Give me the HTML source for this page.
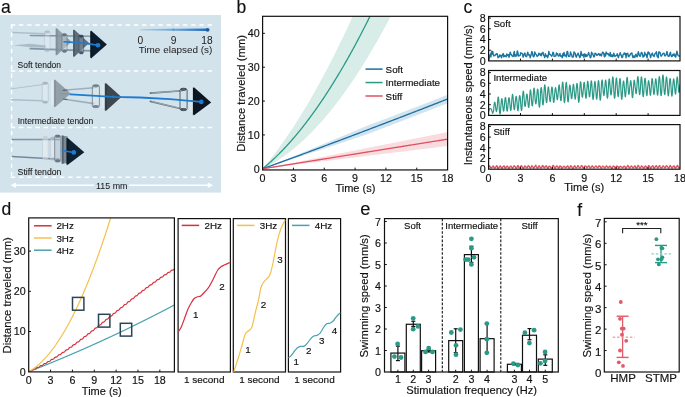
<!DOCTYPE html>
<html><head><meta charset="utf-8"><style>
html,body{margin:0;padding:0;background:#fff;width:685px;height:397px;overflow:hidden}
svg{display:block;will-change:transform}
svg text{font-family:"Liberation Sans", sans-serif}
</style></head><body>
<svg width="685" height="397" viewBox="0 0 685 397">
<rect x="0" y="15" width="221" height="177.6" fill="#d3e3ec"/>
<text x="1" y="12.6" font-size="17.5" text-anchor="start" fill="#111" stroke="#111" stroke-width="0.16" >a</text>
<line x1="10.8" y1="25" x2="213.5" y2="25" stroke="#ffffff" stroke-width="1.5" stroke-dasharray="4.4 3.8"/>
<line x1="10.8" y1="71" x2="213.5" y2="71" stroke="#ffffff" stroke-width="1.5" stroke-dasharray="4.4 3.8"/>
<line x1="10.8" y1="127.6" x2="213.5" y2="127.6" stroke="#ffffff" stroke-width="1.5" stroke-dasharray="4.4 3.8"/>
<line x1="10.8" y1="177.2" x2="213.5" y2="177.2" stroke="#ffffff" stroke-width="1.5" stroke-dasharray="4.4 3.8"/>
<line x1="11.6" y1="24.3" x2="11.6" y2="177.2" stroke="#ffffff" stroke-width="1.5" stroke-dasharray="4.4 3.8"/>
<line x1="14" y1="185.2" x2="94" y2="185.2" stroke="#ffffff" stroke-width="1.4" />
<line x1="129" y1="185.2" x2="209" y2="185.2" stroke="#ffffff" stroke-width="1.4" />
<polygon points="10.5,185.2 16,182.4 16,188" fill="#ffffff" />
<polygon points="213.2,185.2 207.7,182.4 207.7,188" fill="#ffffff" />
<text x="111.8" y="189.4" font-size="8.9" text-anchor="middle" fill="#1a1a1a" stroke="#1a1a1a" stroke-width="0.05" >115 mm</text>
<defs><linearGradient id="cb" x1="0" x2="1" y1="0" y2="0"><stop offset="0" stop-color="#b4d2ea"/><stop offset="0.5" stop-color="#6aa6d8"/><stop offset="1" stop-color="#1c6cbf"/></linearGradient></defs>
<polygon points="139.9,29.1 207.5,28.6 207.5,31 139.9,30.4" fill="url(#cb)" />
<circle cx="173.4" cy="29.8" r="1.3" fill="#5e9fd0" />
<circle cx="207.6" cy="29.8" r="1.9" fill="#1a5c9c" />
<text x="140.3" y="43.8" font-size="10.2" text-anchor="middle" fill="#1a1a1a" stroke="#1a1a1a" stroke-width="0.0" >0</text>
<text x="173.5" y="43.8" font-size="10.2" text-anchor="middle" fill="#1a1a1a" stroke="#1a1a1a" stroke-width="0.0" >9</text>
<text x="207" y="43.8" font-size="10.2" text-anchor="middle" fill="#1a1a1a" stroke="#1a1a1a" stroke-width="0.0" >18</text>
<text x="175.5" y="53.2" font-size="9.95" text-anchor="middle" fill="#1a1a1a" stroke="#1a1a1a" stroke-width="0.0" >Time elapsed (s)</text>
<text x="17.6" y="67.9" font-size="8.5" text-anchor="start" fill="#1a1a1a" stroke="#1a1a1a" stroke-width="0.08" >Soft tendon</text>
<text x="17.7" y="124.2" font-size="8.5" text-anchor="start" fill="#1a1a1a" stroke="#1a1a1a" stroke-width="0.08" >Intermediate tendon</text>
<text x="17.6" y="175.2" font-size="8.7" text-anchor="start" fill="#1a1a1a" stroke="#1a1a1a" stroke-width="0.08" >Stiff tendon</text>
<defs><filter id="soft" x="-5%" y="-5%" width="110%" height="110%"><feGaussianBlur stdDeviation="0.35"/></filter></defs>
<g filter="url(#soft)">
<line x1="13.1" y1="32.5" x2="45.3" y2="33.8" stroke="#a8bbc7" stroke-width="1.5" stroke-opacity="0.9" stroke-linecap="round"/>
<polygon points="13,45.3 30,43.8 46,45.5 46,47.8 30,47.2" fill="#a3b5c1" fill-opacity="0.85"/>
<line x1="30.3" y1="35.4" x2="92" y2="36.2" stroke="#6d8597" stroke-width="1.5" stroke-opacity="0.8" stroke-linecap="round"/>
<line x1="30.3" y1="48.6" x2="92" y2="50.8" stroke="#6d8597" stroke-width="1.8" stroke-opacity="0.8" stroke-linecap="round"/>
<rect x="44.4" y="30.7" width="5.7" height="20.8" rx="2.59" ry="2" fill="#eef3f6" fill-opacity="0.24750000000000003" stroke="#8797a3" stroke-opacity="0.27" stroke-width="0.9"/>
<ellipse cx="47.25" cy="32.1" rx="2.48" ry="1.3" fill="#8797a3" fill-opacity="0.48"/>
<ellipse cx="47.25" cy="50.1" rx="2.48" ry="1.3" fill="#8797a3" fill-opacity="0.48"/>
<polygon points="56.4,27.8 71.5,41.8 56.4,55.8" fill="#8795a0" fill-opacity="0.85"/>
<polygon points="55.6,28.3 57.6,29.3 57.6,54.3 55.6,55.3" fill="#7a8893" fill-opacity="0.85"/>
<rect x="62" y="33.5" width="5" height="19" rx="2.27" ry="2" fill="#c9d3d9" fill-opacity="0.44000000000000006" stroke="#46586a" stroke-opacity="0.48" stroke-width="0.9"/>
<ellipse cx="64.5" cy="34.9" rx="2.17" ry="1.3" fill="#46586a" fill-opacity="0.7200000000000001"/>
<ellipse cx="64.5" cy="51.1" rx="2.17" ry="1.3" fill="#46586a" fill-opacity="0.7200000000000001"/>
<polygon points="73.8,29.2 89.1,43 73.8,57.2" fill="#566572" fill-opacity="0.92"/>
<polygon points="73,29.7 75,30.7 75,55.7 73,56.7" fill="#4a5966" fill-opacity="0.92"/>
<rect x="78.9" y="35" width="4.7" height="19" rx="2.14" ry="2" fill="#8b98a2" fill-opacity="0.44000000000000006" stroke="#223444" stroke-opacity="0.48" stroke-width="0.9"/>
<ellipse cx="81.25" cy="36.4" rx="2.04" ry="1.3" fill="#223444" fill-opacity="0.76"/>
<ellipse cx="81.25" cy="52.6" rx="2.04" ry="1.3" fill="#223444" fill-opacity="0.76"/>
<polygon points="91,30.6 106.9,44.6 91,58.5" fill="#0e1f2d" fill-opacity="1.0"/>
<polygon points="90.2,31.1 92.2,32.1 92.2,57 90.2,58" fill="#0a1824" fill-opacity="1.0"/>
<polyline points="64,41.8 76,42.6 87.3,43.6 98,45.3" fill="none" stroke="#1f7bd0" stroke-width="1.6" stroke-linejoin="round" stroke-linecap="round" />
<circle cx="98" cy="45.3" r="2.3" fill="#1f7bd0" />
<line x1="11.4" y1="88.5" x2="42.6" y2="84.3" stroke="#a9bac5" stroke-width="1.6" stroke-opacity="0.9" stroke-linecap="round"/>
<line x1="11.4" y1="99.7" x2="42.6" y2="100.8" stroke="#a9bac5" stroke-width="1.6" stroke-opacity="0.9" stroke-linecap="round"/>
<line x1="11.4" y1="88" x2="42.6" y2="83.8" stroke="#f4f7f9" stroke-width="0.6" stroke-opacity="0.8" stroke-linecap="round"/>
<rect x="42.2" y="82" width="6" height="21.4" rx="2.73" ry="2" fill="#eef3f6" fill-opacity="0.33" stroke="#8d9ba5" stroke-opacity="0.36" stroke-width="0.9"/>
<ellipse cx="45.2" cy="83.4" rx="2.61" ry="1.3" fill="#8d9ba5" fill-opacity="0.6400000000000001"/>
<ellipse cx="45.2" cy="102" rx="2.61" ry="1.3" fill="#8d9ba5" fill-opacity="0.6400000000000001"/>
<rect x="51" y="80.5" width="3" height="25" fill="#e8eff3" stroke="none" stroke-width="0" fill-opacity="0.6"/>
<polyline points="60.1,93.9 71,94.4" fill="none" stroke="#5f9bcd" stroke-width="1.6" stroke-linejoin="round" stroke-linecap="round" />
<polygon points="54.7,79.2 70.8,93.4 54.7,107.6" fill="#8f9ba3" fill-opacity="0.93"/>
<polygon points="53.9,79.7 55.9,80.7 55.9,106.1 53.9,107.1" fill="#84919a" fill-opacity="0.93"/>
<line x1="63.2" y1="90.3" x2="93.8" y2="87.8" stroke="#9aa8b2" stroke-width="1.6" stroke-opacity="0.9" stroke-linecap="round"/>
<line x1="63.2" y1="99" x2="93.8" y2="103.6" stroke="#9aa8b2" stroke-width="1.6" stroke-opacity="0.9" stroke-linecap="round"/>
<line x1="63.2" y1="90.3" x2="67" y2="90" stroke="#4c5964" stroke-width="1.2" stroke-opacity="0.9" stroke-linecap="round"/>
<line x1="63.2" y1="99" x2="67" y2="99.5" stroke="#4c5964" stroke-width="1.2" stroke-opacity="0.9" stroke-linecap="round"/>
<rect x="92.3" y="84.7" width="7.1" height="23" rx="3.23" ry="2" fill="#dde6eb" fill-opacity="0.44000000000000006" stroke="#56636d" stroke-opacity="0.7200000000000001" stroke-width="0.9"/>
<ellipse cx="95.85" cy="86.1" rx="3.09" ry="1.3" fill="#56636d" fill-opacity="0.7200000000000001"/>
<ellipse cx="95.85" cy="106.3" rx="3.09" ry="1.3" fill="#56636d" fill-opacity="0.7200000000000001"/>
<rect x="101.5" y="84" width="3.5" height="24" fill="#e6edf1" stroke="none" stroke-width="0" fill-opacity="0.5"/>
<polygon points="105.6,82.7 121.4,97 105.6,111.3" fill="#3c4650" fill-opacity="1.0"/>
<polygon points="104.8,83.2 106.8,84.2 106.8,109.8 104.8,110.8" fill="#333d46" fill-opacity="1.0"/>
<line x1="150.4" y1="93.1" x2="182.2" y2="90.7" stroke="#56626c" stroke-width="1.6" stroke-opacity="0.9" stroke-linecap="round"/>
<line x1="150.4" y1="101.4" x2="182.2" y2="109" stroke="#56626c" stroke-width="1.6" stroke-opacity="0.9" stroke-linecap="round"/>
<line x1="152" y1="93" x2="181" y2="90.9" stroke="#c7d2d9" stroke-width="0.6" stroke-opacity="0.9" stroke-linecap="round"/>
<line x1="152" y1="101.6" x2="181" y2="108.6" stroke="#c7d2d9" stroke-width="0.6" stroke-opacity="0.9" stroke-linecap="round"/>
<rect x="180" y="88.2" width="7.1" height="22.5" rx="3.23" ry="2" fill="#d5dee4" fill-opacity="0.4675" stroke="#26313a" stroke-opacity="0.8075" stroke-width="0.9"/>
<ellipse cx="183.55" cy="89.6" rx="3.09" ry="1.3" fill="#26313a" fill-opacity="0.76"/>
<ellipse cx="183.55" cy="109.3" rx="3.09" ry="1.3" fill="#26313a" fill-opacity="0.76"/>
<rect x="189.5" y="88" width="3" height="24" fill="#e6edf1" stroke="none" stroke-width="0" fill-opacity="0.5"/>
<polygon points="193.7,87.1 211.2,102.5 193.7,115.6" fill="#0e1820" fill-opacity="1.0"/>
<polygon points="192.9,87.6 194.9,88.6 194.9,114.1 192.9,115.1" fill="#0b141b" fill-opacity="1.0"/>
<polyline points="71,94.4 113,96.8 140,97.5 170,99.2 201.3,101.9" fill="none" stroke="#1f7bd0" stroke-width="1.8" stroke-linejoin="round" stroke-linecap="round" />
<circle cx="113.2" cy="96.8" r="1.3" fill="#1f7bd0" />
<circle cx="201.3" cy="101.9" r="2.3" fill="#1f7bd0" />
<line x1="12.1" y1="139.6" x2="59.2" y2="139.6" stroke="#6f8596" stroke-width="1.5" stroke-opacity="0.95" stroke-linecap="round"/>
<line x1="12.1" y1="156.4" x2="59.2" y2="159.2" stroke="#6f8596" stroke-width="1.5" stroke-opacity="0.95" stroke-linecap="round"/>
<line x1="14" y1="138.9" x2="58" y2="138.9" stroke="#c9d5dd" stroke-width="0.5" stroke-opacity="0.9" stroke-linecap="round"/>
<rect x="42.6" y="136.5" width="5.5" height="23.2" rx="2.5" ry="2" fill="#f1f5f7" fill-opacity="0.44000000000000006" stroke="#b3c0c9" stroke-opacity="0.48" stroke-width="0.9"/>
<ellipse cx="45.35" cy="137.9" rx="2.39" ry="1.3" fill="#b3c0c9" fill-opacity="0.5599999999999999"/>
<ellipse cx="45.35" cy="158.3" rx="2.39" ry="1.3" fill="#b3c0c9" fill-opacity="0.5599999999999999"/>
<rect x="50.1" y="137" width="5" height="23.2" rx="2.27" ry="2" fill="#e4ebef" fill-opacity="0.44000000000000006" stroke="#9aa9b4" stroke-opacity="0.48" stroke-width="0.9"/>
<ellipse cx="52.6" cy="138.4" rx="2.17" ry="1.3" fill="#9aa9b4" fill-opacity="0.6400000000000001"/>
<ellipse cx="52.6" cy="158.8" rx="2.17" ry="1.3" fill="#9aa9b4" fill-opacity="0.6400000000000001"/>
<rect x="54.6" y="135" width="6.1" height="27.2" rx="2.77" ry="2" fill="#b4c0c8" fill-opacity="0.4675" stroke="#465665" stroke-opacity="0.51" stroke-width="0.9"/>
<ellipse cx="57.65" cy="136.4" rx="2.65" ry="1.3" fill="#465665" fill-opacity="0.7200000000000001"/>
<ellipse cx="57.65" cy="160.8" rx="2.65" ry="1.3" fill="#465665" fill-opacity="0.7200000000000001"/>
<polygon points="61.7,135.5 67.7,136.5 67.7,163 61.7,163.7" fill="#7b8993" />
<polygon points="61.7,135.5 63.7,135.8 63.7,163.5 61.7,163.7" fill="#56636d" />
<polyline points="62.2,150.6 73.8,152.4" fill="none" stroke="#1f7bd0" stroke-width="1.5" stroke-linejoin="round" stroke-linecap="round" />
<polygon points="67.2,137.6 84.3,152.2 67.2,165.2" fill="#0d2231" fill-opacity="1.0"/>
<polygon points="66.4,138.1 68.4,139.1 68.4,163.7 66.4,164.7" fill="#0a1b27" fill-opacity="1.0"/>
<polyline points="66,151.2 73.8,152.4" fill="none" stroke="#1f7bd0" stroke-width="1.5" stroke-linejoin="round" stroke-linecap="round" />
<circle cx="73.8" cy="152.4" r="2.3" fill="#1f7bd0" />
</g>
<defs><clipPath id="cpb"><rect x="262.6" y="16.3" width="185" height="153.65"/></clipPath></defs>
<g clip-path="url(#cpb)">
<polygon points="262.6,168.8 263.63,167.57 264.66,166.34 265.68,165.09 266.71,163.83 267.74,162.56 268.77,161.27 269.79,159.97 270.82,158.67 271.85,157.35 272.88,156.01 273.91,154.67 274.93,153.31 275.96,151.95 276.99,150.57 278.02,149.18 279.04,147.77 280.07,146.36 281.1,144.93 282.13,143.49 283.16,142.04 284.18,140.58 285.21,139.11 286.24,137.62 287.27,136.12 288.29,134.61 289.32,133.09 290.35,131.56 291.38,130.01 292.41,128.45 293.43,126.89 294.46,125.3 295.49,123.71 296.52,122.11 297.54,120.49 298.57,118.86 299.6,117.22 300.63,115.57 301.66,113.91 302.68,112.23 303.71,110.54 304.74,108.84 305.77,107.13 306.79,105.41 307.82,103.67 308.85,101.93 309.88,100.17 310.91,98.4 311.93,96.62 312.96,94.82 313.99,93.02 315.02,91.2 316.04,89.37 317.07,87.53 318.1,85.67 319.13,83.81 320.16,81.93 321.18,80.04 322.21,78.14 323.24,76.23 324.27,74.3 325.29,72.37 326.32,70.42 327.35,68.46 328.38,66.49 329.41,64.5 330.43,62.51 331.46,60.5 332.49,58.48 333.52,56.45 334.54,54.4 335.57,52.35 336.6,50.28 337.63,48.2 338.66,46.11 339.68,44.01 340.71,41.9 341.74,39.77 342.77,37.63 343.79,35.48 344.82,33.32 345.85,31.15 346.88,28.96 347.91,26.76 348.93,24.55 349.96,22.33 350.99,20.1 352.02,17.86 353.04,15.6 354.07,13.33 355.1,11.05 356.13,8.76 357.16,6.45 358.18,4.14 359.21,1.81 360.24,-0.53 361.27,-2.88 362.29,-5.24 363.32,-7.62 364.35,-10.01 365.38,-12.4 366.41,-14.82 367.43,-17.24 368.46,-19.67 369.49,-22.12 370.52,-24.58 371.54,-27.05 372.57,-29.53 373.6,-32.02 374.63,-34.53 375.66,-37.04 376.68,-39.57 377.71,-42.12 378.74,-44.67 379.77,-47.23 380.79,-49.81 381.82,-52.4 382.85,-55 383.88,-57.61 384.91,-60.23 385.93,-62.87 386.96,-65.52 387.99,-68.18 389.02,-70.85 390.04,-73.53 391.07,-76.23 392.1,-78.94 393.13,-81.65 394.16,-84.39 395.18,-87.13 396.21,-89.88 397.24,-92.65 398.27,-95.43 399.29,-98.22 400.32,-101.02 401.35,-103.83 402.38,-106.66 403.41,-109.5 404.43,-112.34 405.46,-115.21 406.49,-118.08 407.52,-120.96 408.54,-123.86 409.57,-126.77 410.6,-129.69 411.63,-132.62 412.66,-135.57 413.68,-138.52 414.71,-141.49 415.74,-144.47 416.77,-147.46 417.79,-150.46 418.82,-153.48 419.85,-156.51 420.88,-159.55 421.91,-162.6 422.93,-165.66 423.96,-168.73 424.99,-171.82 426.02,-174.92 427.04,-178.03 428.07,-181.15 429.1,-184.28 430.13,-187.43 431.16,-190.59 432.18,-193.76 433.21,-196.94 434.24,-200.13 435.27,-203.34 436.29,-206.55 437.32,-209.78 438.35,-213.02 439.38,-216.27 440.41,-219.54 441.43,-222.82 442.46,-226.1 443.49,-229.4 444.52,-232.71 445.54,-236.04 446.57,-239.37 447.6,-242.72 447.6,-110.42 446.57,-107.81 445.54,-105.21 444.52,-102.62 443.49,-100.05 442.46,-97.48 441.43,-94.93 440.41,-92.39 439.38,-89.86 438.35,-87.34 437.32,-84.84 436.29,-82.34 435.27,-79.86 434.24,-77.39 433.21,-74.93 432.18,-72.49 431.16,-70.05 430.13,-67.63 429.1,-65.22 428.07,-62.82 427.04,-60.43 426.02,-58.06 424.99,-55.69 423.96,-53.34 422.93,-51 421.91,-48.68 420.88,-46.36 419.85,-44.06 418.82,-41.76 417.79,-39.48 416.77,-37.21 415.74,-34.96 414.71,-32.71 413.68,-30.48 412.66,-28.26 411.63,-26.05 410.6,-23.85 409.57,-21.67 408.54,-19.49 407.52,-17.33 406.49,-15.18 405.46,-13.04 404.43,-10.92 403.41,-8.8 402.38,-6.7 401.35,-4.61 400.32,-2.53 399.29,-0.46 398.27,1.59 397.24,3.63 396.21,5.67 395.18,7.68 394.16,9.69 393.13,11.69 392.1,13.67 391.07,15.64 390.04,17.6 389.02,19.55 387.99,21.49 386.96,23.41 385.93,25.33 384.91,27.23 383.88,29.12 382.85,30.99 381.82,32.86 380.79,34.71 379.77,36.55 378.74,38.38 377.71,40.2 376.68,42.01 375.66,43.8 374.63,45.59 373.6,47.36 372.57,49.11 371.54,50.86 370.52,52.6 369.49,54.32 368.46,56.03 367.43,57.73 366.41,59.42 365.38,61.09 364.35,62.76 363.32,64.41 362.29,66.05 361.27,67.68 360.24,69.29 359.21,70.9 358.18,72.49 357.16,74.07 356.13,75.64 355.1,77.2 354.07,78.74 353.04,80.28 352.02,81.8 350.99,83.31 349.96,84.81 348.93,86.29 347.91,87.77 346.88,89.23 345.85,90.68 344.82,92.12 343.79,93.55 342.77,94.96 341.74,96.36 340.71,97.75 339.68,99.13 338.66,100.5 337.63,101.86 336.6,103.2 335.57,104.53 334.54,105.85 333.52,107.16 332.49,108.46 331.46,109.74 330.43,111.01 329.41,112.28 328.38,113.52 327.35,114.76 326.32,115.99 325.29,117.2 324.27,118.4 323.24,119.59 322.21,120.77 321.18,121.93 320.16,123.09 319.13,124.23 318.1,125.36 317.07,126.48 316.04,127.59 315.02,128.68 313.99,129.76 312.96,130.84 311.93,131.9 310.91,132.94 309.88,133.98 308.85,135 307.82,136.01 306.79,137.01 305.77,138 304.74,138.98 303.71,139.94 302.68,140.9 301.66,141.84 300.63,142.76 299.6,143.68 298.57,144.59 297.54,145.48 296.52,146.36 295.49,147.23 294.46,148.09 293.43,148.94 292.41,149.77 291.38,150.59 290.35,151.4 289.32,152.2 288.29,152.99 287.27,153.76 286.24,154.52 285.21,155.28 284.18,156.01 283.16,156.74 282.13,157.46 281.1,158.16 280.07,158.85 279.04,159.53 278.02,160.2 276.99,160.86 275.96,161.5 274.93,162.13 273.91,162.76 272.88,163.36 271.85,163.96 270.82,164.55 269.79,165.12 268.77,165.68 267.74,166.23 266.71,166.77 265.68,167.29 264.66,167.81 263.63,168.31 262.6,168.8" fill="#d8ece8" fill-opacity="1"/>
<polygon points="262.6,168.8 263.63,168.39 264.66,167.97 265.68,167.56 266.71,167.14 267.74,166.73 268.77,166.32 269.79,165.9 270.82,165.49 271.85,165.07 272.88,164.66 273.91,164.24 274.93,163.82 275.96,163.41 276.99,162.99 278.02,162.58 279.04,162.16 280.07,161.74 281.1,161.33 282.13,160.91 283.16,160.49 284.18,160.07 285.21,159.66 286.24,159.24 287.27,158.82 288.29,158.4 289.32,157.98 290.35,157.57 291.38,157.15 292.41,156.73 293.43,156.31 294.46,155.89 295.49,155.47 296.52,155.05 297.54,154.63 298.57,154.21 299.6,153.79 300.63,153.37 301.66,152.95 302.68,152.53 303.71,152.11 304.74,151.69 305.77,151.26 306.79,150.84 307.82,150.42 308.85,150 309.88,149.58 310.91,149.16 311.93,148.73 312.96,148.31 313.99,147.89 315.02,147.46 316.04,147.04 317.07,146.62 318.1,146.19 319.13,145.77 320.16,145.35 321.18,144.92 322.21,144.5 323.24,144.07 324.27,143.65 325.29,143.22 326.32,142.8 327.35,142.37 328.38,141.95 329.41,141.52 330.43,141.1 331.46,140.67 332.49,140.24 333.52,139.82 334.54,139.39 335.57,138.96 336.6,138.54 337.63,138.11 338.66,137.68 339.68,137.25 340.71,136.83 341.74,136.4 342.77,135.97 343.79,135.54 344.82,135.11 345.85,134.69 346.88,134.26 347.91,133.83 348.93,133.4 349.96,132.97 350.99,132.54 352.02,132.11 353.04,131.68 354.07,131.25 355.1,130.82 356.13,130.39 357.16,129.96 358.18,129.53 359.21,129.1 360.24,128.66 361.27,128.23 362.29,127.8 363.32,127.37 364.35,126.94 365.38,126.5 366.41,126.07 367.43,125.68 368.46,125.29 369.49,124.9 370.52,124.51 371.54,124.12 372.57,123.73 373.6,123.34 374.63,122.95 375.66,122.56 376.68,122.17 377.71,121.78 378.74,121.38 379.77,120.99 380.79,120.6 381.82,120.21 382.85,119.82 383.88,119.42 384.91,119.03 385.93,118.64 386.96,118.25 387.99,117.85 389.02,117.46 390.04,117.07 391.07,116.67 392.1,116.28 393.13,115.88 394.16,115.49 395.18,115.1 396.21,114.7 397.24,114.31 398.27,113.91 399.29,113.52 400.32,113.12 401.35,112.73 402.38,112.33 403.41,111.93 404.43,111.54 405.46,111.14 406.49,110.75 407.52,110.35 408.54,109.95 409.57,109.56 410.6,109.16 411.63,108.76 412.66,108.37 413.68,107.97 414.71,107.57 415.74,107.17 416.77,106.78 417.79,106.38 418.82,105.98 419.85,105.58 420.88,105.18 421.91,104.78 422.93,104.38 423.96,103.99 424.99,103.59 426.02,103.19 427.04,102.79 428.07,102.39 429.1,101.99 430.13,101.59 431.16,101.19 432.18,100.79 433.21,100.39 434.24,99.99 435.27,99.58 436.29,99.18 437.32,98.78 438.35,98.38 439.38,97.98 440.41,97.58 441.43,97.18 442.46,96.77 443.49,96.37 444.52,95.97 445.54,95.57 446.57,95.16 447.6,94.76 447.6,103.23 446.57,103.63 445.54,104.03 444.52,104.44 443.49,104.84 442.46,105.24 441.43,105.64 440.41,106.04 439.38,106.45 438.35,106.85 437.32,107.25 436.29,107.65 435.27,108.05 434.24,108.45 433.21,108.85 432.18,109.25 431.16,109.65 430.13,110.06 429.1,110.46 428.07,110.86 427.04,111.25 426.02,111.65 424.99,112.05 423.96,112.45 422.93,112.85 421.91,113.25 420.88,113.65 419.85,114.05 418.82,114.45 417.79,114.85 416.77,115.24 415.74,115.64 414.71,116.04 413.68,116.44 412.66,116.83 411.63,117.23 410.6,117.63 409.57,118.02 408.54,118.42 407.52,118.82 406.49,119.21 405.46,119.61 404.43,120.01 403.41,120.4 402.38,120.8 401.35,121.19 400.32,121.59 399.29,121.98 398.27,122.38 397.24,122.77 396.21,123.17 395.18,123.56 394.16,123.96 393.13,124.35 392.1,124.75 391.07,125.14 390.04,125.53 389.02,125.93 387.99,126.32 386.96,126.71 385.93,127.11 384.91,127.5 383.88,127.89 382.85,128.28 381.82,128.68 380.79,129.07 379.77,129.46 378.74,129.85 377.71,130.24 376.68,130.64 375.66,131.03 374.63,131.42 373.6,131.81 372.57,132.2 371.54,132.59 370.52,132.98 369.49,133.37 368.46,133.76 367.43,134.15 366.41,134.54 365.38,134.89 364.35,135.23 363.32,135.58 362.29,135.93 361.27,136.27 360.24,136.62 359.21,136.96 358.18,137.31 357.16,137.66 356.13,138 355.1,138.35 354.07,138.69 353.04,139.04 352.02,139.38 350.99,139.73 349.96,140.07 348.93,140.41 347.91,140.76 346.88,141.1 345.85,141.45 344.82,141.79 343.79,142.13 342.77,142.48 341.74,142.82 340.71,143.16 339.68,143.51 338.66,143.85 337.63,144.19 336.6,144.54 335.57,144.88 334.54,145.22 333.52,145.56 332.49,145.9 331.46,146.25 330.43,146.59 329.41,146.93 328.38,147.27 327.35,147.61 326.32,147.95 325.29,148.29 324.27,148.63 323.24,148.97 322.21,149.31 321.18,149.65 320.16,149.99 319.13,150.33 318.1,150.67 317.07,151.01 316.04,151.35 315.02,151.69 313.99,152.03 312.96,152.37 311.93,152.71 310.91,153.05 309.88,153.39 308.85,153.73 307.82,154.06 306.79,154.4 305.77,154.74 304.74,155.08 303.71,155.42 302.68,155.75 301.66,156.09 300.63,156.43 299.6,156.77 298.57,157.1 297.54,157.44 296.52,157.78 295.49,158.11 294.46,158.45 293.43,158.78 292.41,159.12 291.38,159.46 290.35,159.79 289.32,160.13 288.29,160.46 287.27,160.8 286.24,161.13 285.21,161.47 284.18,161.8 283.16,162.14 282.13,162.47 281.1,162.81 280.07,163.14 279.04,163.48 278.02,163.81 276.99,164.14 275.96,164.48 274.93,164.81 273.91,165.14 272.88,165.48 271.85,165.81 270.82,166.14 269.79,166.48 268.77,166.81 267.74,167.14 266.71,167.47 265.68,167.8 264.66,168.14 263.63,168.47 262.6,168.8" fill="#d2e5ee" fill-opacity="1"/>
<polygon points="262.6,168.8 263.63,168.6 264.66,168.39 265.68,168.19 266.71,167.98 267.74,167.78 268.77,167.58 269.79,167.37 270.82,167.17 271.85,166.96 272.88,166.76 273.91,166.55 274.93,166.35 275.96,166.15 276.99,165.94 278.02,165.74 279.04,165.53 280.07,165.33 281.1,165.13 282.13,164.92 283.16,164.72 284.18,164.51 285.21,164.31 286.24,164.11 287.27,163.9 288.29,163.7 289.32,163.49 290.35,163.29 291.38,163.08 292.41,162.88 293.43,162.68 294.46,162.47 295.49,162.27 296.52,162.06 297.54,161.86 298.57,161.66 299.6,161.45 300.63,161.25 301.66,161.04 302.68,160.84 303.71,160.64 304.74,160.43 305.77,160.23 306.79,160.02 307.82,159.82 308.85,159.61 309.88,159.41 310.91,159.21 311.93,159 312.96,158.8 313.99,158.59 315.02,158.39 316.04,158.19 317.07,157.98 318.1,157.78 319.13,157.57 320.16,157.37 321.18,157.17 322.21,156.96 323.24,156.76 324.27,156.55 325.29,156.35 326.32,156.14 327.35,155.94 328.38,155.74 329.41,155.53 330.43,155.33 331.46,155.12 332.49,154.92 333.52,154.72 334.54,154.51 335.57,154.31 336.6,154.1 337.63,153.9 338.66,153.7 339.68,153.49 340.71,153.29 341.74,153.08 342.77,152.88 343.79,152.67 344.82,152.47 345.85,152.27 346.88,152.06 347.91,151.86 348.93,151.65 349.96,151.45 350.99,151.25 352.02,151.04 353.04,150.84 354.07,150.63 355.1,150.43 356.13,150.23 357.16,150.02 358.18,149.82 359.21,149.61 360.24,149.41 361.27,149.21 362.29,149 363.32,148.8 364.35,148.59 365.38,148.39 366.41,148.18 367.43,147.98 368.46,147.78 369.49,147.57 370.52,147.37 371.54,147.16 372.57,146.96 373.6,146.76 374.63,146.55 375.66,146.35 376.68,146.14 377.71,145.94 378.74,145.74 379.77,145.53 380.79,145.33 381.82,145.12 382.85,144.92 383.88,144.71 384.91,144.51 385.93,144.31 386.96,144.1 387.99,143.9 389.02,143.69 390.04,143.49 391.07,143.29 392.1,143.08 393.13,142.88 394.16,142.67 395.18,142.47 396.21,142.27 397.24,142.06 398.27,141.86 399.29,141.65 400.32,141.45 401.35,141.24 402.38,141.04 403.41,140.84 404.43,140.63 405.46,140.43 406.49,140.22 407.52,140.02 408.54,139.82 409.57,139.61 410.6,139.41 411.63,139.2 412.66,139 413.68,138.8 414.71,138.59 415.74,138.39 416.77,138.18 417.79,137.98 418.82,137.77 419.85,137.57 420.88,137.37 421.91,137.16 422.93,136.96 423.96,136.75 424.99,136.55 426.02,136.35 427.04,136.14 428.07,135.94 429.1,135.73 430.13,135.53 431.16,135.33 432.18,135.12 433.21,134.92 434.24,134.71 435.27,134.51 436.29,134.3 437.32,134.1 438.35,133.9 439.38,133.69 440.41,133.49 441.43,133.28 442.46,133.08 443.49,132.88 444.52,132.67 445.54,132.47 446.57,132.26 447.6,132.06 447.6,145.99 446.57,146.11 445.54,146.24 444.52,146.37 443.49,146.49 442.46,146.62 441.43,146.75 440.41,146.87 439.38,147 438.35,147.13 437.32,147.25 436.29,147.38 435.27,147.51 434.24,147.63 433.21,147.76 432.18,147.89 431.16,148.01 430.13,148.14 429.1,148.27 428.07,148.39 427.04,148.52 426.02,148.65 424.99,148.77 423.96,148.9 422.93,149.03 421.91,149.15 420.88,149.28 419.85,149.41 418.82,149.53 417.79,149.66 416.77,149.79 415.74,149.91 414.71,150.04 413.68,150.17 412.66,150.29 411.63,150.42 410.6,150.55 409.57,150.67 408.54,150.8 407.52,150.93 406.49,151.06 405.46,151.18 404.43,151.31 403.41,151.44 402.38,151.56 401.35,151.69 400.32,151.82 399.29,151.94 398.27,152.07 397.24,152.2 396.21,152.32 395.18,152.45 394.16,152.58 393.13,152.7 392.1,152.83 391.07,152.96 390.04,153.08 389.02,153.21 387.99,153.34 386.96,153.46 385.93,153.59 384.91,153.72 383.88,153.84 382.85,153.97 381.82,154.1 380.79,154.22 379.77,154.35 378.74,154.48 377.71,154.6 376.68,154.73 375.66,154.86 374.63,154.98 373.6,155.11 372.57,155.24 371.54,155.36 370.52,155.49 369.49,155.62 368.46,155.74 367.43,155.87 366.41,156 365.38,156.13 364.35,156.25 363.32,156.38 362.29,156.51 361.27,156.63 360.24,156.76 359.21,156.89 358.18,157.01 357.16,157.14 356.13,157.27 355.1,157.39 354.07,157.52 353.04,157.65 352.02,157.77 350.99,157.9 349.96,158.03 348.93,158.15 347.91,158.28 346.88,158.41 345.85,158.53 344.82,158.66 343.79,158.79 342.77,158.91 341.74,159.04 340.71,159.17 339.68,159.29 338.66,159.42 337.63,159.55 336.6,159.67 335.57,159.8 334.54,159.93 333.52,160.05 332.49,160.18 331.46,160.31 330.43,160.43 329.41,160.56 328.38,160.69 327.35,160.81 326.32,160.94 325.29,161.07 324.27,161.2 323.24,161.32 322.21,161.45 321.18,161.58 320.16,161.7 319.13,161.83 318.1,161.96 317.07,162.08 316.04,162.21 315.02,162.34 313.99,162.46 312.96,162.59 311.93,162.72 310.91,162.84 309.88,162.97 308.85,163.1 307.82,163.22 306.79,163.35 305.77,163.48 304.74,163.6 303.71,163.73 302.68,163.86 301.66,163.98 300.63,164.11 299.6,164.24 298.57,164.36 297.54,164.49 296.52,164.62 295.49,164.74 294.46,164.87 293.43,165 292.41,165.12 291.38,165.25 290.35,165.38 289.32,165.5 288.29,165.63 287.27,165.76 286.24,165.88 285.21,166.01 284.18,166.14 283.16,166.27 282.13,166.39 281.1,166.52 280.07,166.65 279.04,166.77 278.02,166.9 276.99,167.03 275.96,167.15 274.93,167.28 273.91,167.41 272.88,167.53 271.85,167.66 270.82,167.79 269.79,167.91 268.77,168.04 267.74,168.17 266.71,168.29 265.68,168.42 264.66,168.55 263.63,168.67 262.6,168.8" fill="#f9dce0" fill-opacity="1"/>
<polyline points="262.6,168.8 263.63,167.95 264.66,167.1 265.68,166.23 266.71,165.35 267.74,164.45 268.77,163.55 269.79,162.63 270.82,161.7 271.85,160.76 272.88,159.81 273.91,158.84 274.93,157.87 275.96,156.88 276.99,155.88 278.02,154.87 279.04,153.84 280.07,152.81 281.1,151.76 282.13,150.7 283.16,149.63 284.18,148.55 285.21,147.45 286.24,146.35 287.27,145.23 288.29,144.1 289.32,142.95 290.35,141.8 291.38,140.63 292.41,139.46 293.43,138.27 294.46,137.06 295.49,135.85 296.52,134.63 297.54,133.39 298.57,132.14 299.6,130.88 300.63,129.61 301.66,128.32 302.68,127.03 303.71,125.72 304.74,124.4 305.77,123.07 306.79,121.72 307.82,120.37 308.85,119 309.88,117.62 310.91,116.23 311.93,114.82 312.96,113.41 313.99,111.98 315.02,110.54 316.04,109.09 317.07,107.63 318.1,106.16 319.13,104.67 320.16,103.17 321.18,101.66 322.21,100.14 323.24,98.61 324.27,97.06 325.29,95.51 326.32,93.94 327.35,92.36 328.38,90.76 329.41,89.16 330.43,87.54 331.46,85.91 332.49,84.27 333.52,82.62 334.54,80.96 335.57,79.28 336.6,77.59 337.63,75.9 338.66,74.18 339.68,72.46 340.71,70.73 341.74,68.98 342.77,67.22 343.79,65.45 344.82,63.67 345.85,61.87 346.88,60.07 347.91,58.25 348.93,56.42 349.96,54.58 350.99,52.72 352.02,50.86 353.04,48.98 354.07,47.09 355.1,45.19 356.13,43.28 357.16,41.35 358.18,39.42 359.21,37.47 360.24,35.51 361.27,33.54 362.29,31.55 363.32,29.56 364.35,27.55 365.38,25.53 366.41,23.5 367.43,21.46 368.46,19.4 369.49,17.33 370.52,15.25 371.54,13.16 372.57,11.06 373.6,8.95 374.63,6.82 375.66,4.68 376.68,2.53 377.71,0.37 378.74,-1.8 379.77,-3.99 380.79,-6.19 381.82,-8.39 382.85,-10.62 383.88,-12.85 384.91,-15.09 385.93,-17.35 386.96,-19.62 387.99,-21.9 389.02,-24.19 390.04,-26.49 391.07,-28.81 392.1,-31.14 393.13,-33.48 394.16,-35.83 395.18,-38.19 396.21,-40.57 397.24,-42.95 398.27,-45.35 399.29,-47.76 400.32,-50.19 401.35,-52.62 402.38,-55.07 403.41,-57.53 404.43,-60 405.46,-62.48 406.49,-64.97 407.52,-67.48 408.54,-69.99 409.57,-72.52 410.6,-75.06 411.63,-77.62 412.66,-80.18 413.68,-82.76 414.71,-85.35 415.74,-87.95 416.77,-90.56 417.79,-93.18 418.82,-95.82 419.85,-98.47 420.88,-101.13 421.91,-103.8 422.93,-106.48 423.96,-109.18 424.99,-111.88 426.02,-114.6 427.04,-117.33 428.07,-120.08 429.1,-122.83 430.13,-125.6 431.16,-128.38 432.18,-131.17 433.21,-133.97 434.24,-136.78 435.27,-139.61 436.29,-142.44 437.32,-145.29 438.35,-148.15 439.38,-151.03 440.41,-153.91 441.43,-156.81 442.46,-159.72 443.49,-162.64 444.52,-165.57 445.54,-168.51 446.57,-171.47 447.6,-174.44" fill="none" stroke="#2a9a86" stroke-width="1.3" stroke-linejoin="round" stroke-linecap="round" />
<polyline points="262.6,168.8 263.63,168.43 264.66,168.05 265.68,167.68 266.71,167.31 267.74,166.94 268.77,166.56 269.79,166.19 270.82,165.81 271.85,165.44 272.88,165.07 273.91,164.69 274.93,164.32 275.96,163.94 276.99,163.57 278.02,163.19 279.04,162.82 280.07,162.44 281.1,162.07 282.13,161.69 283.16,161.31 284.18,160.94 285.21,160.56 286.24,160.19 287.27,159.81 288.29,159.43 289.32,159.06 290.35,158.68 291.38,158.3 292.41,157.92 293.43,157.55 294.46,157.17 295.49,156.79 296.52,156.41 297.54,156.03 298.57,155.66 299.6,155.28 300.63,154.9 301.66,154.52 302.68,154.14 303.71,153.76 304.74,153.38 305.77,153 306.79,152.62 307.82,152.24 308.85,151.86 309.88,151.48 310.91,151.1 311.93,150.72 312.96,150.34 313.99,149.96 315.02,149.58 316.04,149.2 317.07,148.82 318.1,148.43 319.13,148.05 320.16,147.67 321.18,147.29 322.21,146.91 323.24,146.52 324.27,146.14 325.29,145.76 326.32,145.38 327.35,144.99 328.38,144.61 329.41,144.23 330.43,143.84 331.46,143.46 332.49,143.07 333.52,142.69 334.54,142.31 335.57,141.92 336.6,141.54 337.63,141.15 338.66,140.77 339.68,140.38 340.71,140 341.74,139.61 342.77,139.22 343.79,138.84 344.82,138.45 345.85,138.07 346.88,137.68 347.91,137.29 348.93,136.91 349.96,136.52 350.99,136.13 352.02,135.75 353.04,135.36 354.07,134.97 355.1,134.58 356.13,134.19 357.16,133.81 358.18,133.42 359.21,133.03 360.24,132.64 361.27,132.25 362.29,131.86 363.32,131.47 364.35,131.09 365.38,130.7 366.41,130.31 367.43,129.92 368.46,129.53 369.49,129.14 370.52,128.75 371.54,128.36 372.57,127.97 373.6,127.57 374.63,127.18 375.66,126.79 376.68,126.4 377.71,126.01 378.74,125.62 379.77,125.23 380.79,124.83 381.82,124.44 382.85,124.05 383.88,123.66 384.91,123.27 385.93,122.87 386.96,122.48 387.99,122.09 389.02,121.69 390.04,121.3 391.07,120.91 392.1,120.51 393.13,120.12 394.16,119.72 395.18,119.33 396.21,118.93 397.24,118.54 398.27,118.15 399.29,117.75 400.32,117.36 401.35,116.96 402.38,116.56 403.41,116.17 404.43,115.77 405.46,115.38 406.49,114.98 407.52,114.58 408.54,114.19 409.57,113.79 410.6,113.39 411.63,113 412.66,112.6 413.68,112.2 414.71,111.8 415.74,111.41 416.77,111.01 417.79,110.61 418.82,110.21 419.85,109.81 420.88,109.42 421.91,109.02 422.93,108.62 423.96,108.22 424.99,107.82 426.02,107.42 427.04,107.02 428.07,106.62 429.1,106.22 430.13,105.82 431.16,105.42 432.18,105.02 433.21,104.62 434.24,104.22 435.27,103.82 436.29,103.42 437.32,103.02 438.35,102.61 439.38,102.21 440.41,101.81 441.43,101.41 442.46,101.01 443.49,100.6 444.52,100.2 445.54,99.8 446.57,99.4 447.6,98.99" fill="none" stroke="#1c6ea4" stroke-width="1.3" stroke-linejoin="round" stroke-linecap="round" />
<polyline points="262.6,168.8 263.63,168.64 264.66,168.47 265.68,168.31 266.71,168.14 267.74,167.98 268.77,167.81 269.79,167.65 270.82,167.48 271.85,167.32 272.88,167.15 273.91,166.99 274.93,166.82 275.96,166.66 276.99,166.5 278.02,166.33 279.04,166.17 280.07,166 281.1,165.84 282.13,165.67 283.16,165.51 284.18,165.34 285.21,165.18 286.24,165.01 287.27,164.85 288.29,164.68 289.32,164.52 290.35,164.36 291.38,164.19 292.41,164.03 293.43,163.86 294.46,163.7 295.49,163.53 296.52,163.37 297.54,163.2 298.57,163.04 299.6,162.87 300.63,162.71 301.66,162.54 302.68,162.38 303.71,162.22 304.74,162.05 305.77,161.89 306.79,161.72 307.82,161.56 308.85,161.39 309.88,161.23 310.91,161.06 311.93,160.9 312.96,160.73 313.99,160.57 315.02,160.4 316.04,160.24 317.07,160.08 318.1,159.91 319.13,159.75 320.16,159.58 321.18,159.42 322.21,159.25 323.24,159.09 324.27,158.92 325.29,158.76 326.32,158.59 327.35,158.43 328.38,158.27 329.41,158.1 330.43,157.94 331.46,157.77 332.49,157.61 333.52,157.44 334.54,157.28 335.57,157.11 336.6,156.95 337.63,156.78 338.66,156.62 339.68,156.45 340.71,156.29 341.74,156.13 342.77,155.96 343.79,155.8 344.82,155.63 345.85,155.47 346.88,155.3 347.91,155.14 348.93,154.97 349.96,154.81 350.99,154.64 352.02,154.48 353.04,154.31 354.07,154.15 355.1,153.99 356.13,153.82 357.16,153.66 358.18,153.49 359.21,153.33 360.24,153.16 361.27,153 362.29,152.83 363.32,152.67 364.35,152.5 365.38,152.34 366.41,152.17 367.43,152.01 368.46,151.85 369.49,151.68 370.52,151.52 371.54,151.35 372.57,151.19 373.6,151.02 374.63,150.86 375.66,150.69 376.68,150.53 377.71,150.36 378.74,150.2 379.77,150.03 380.79,149.87 381.82,149.71 382.85,149.54 383.88,149.38 384.91,149.21 385.93,149.05 386.96,148.88 387.99,148.72 389.02,148.55 390.04,148.39 391.07,148.22 392.1,148.06 393.13,147.89 394.16,147.73 395.18,147.57 396.21,147.4 397.24,147.24 398.27,147.07 399.29,146.91 400.32,146.74 401.35,146.58 402.38,146.41 403.41,146.25 404.43,146.08 405.46,145.92 406.49,145.75 407.52,145.59 408.54,145.43 409.57,145.26 410.6,145.1 411.63,144.93 412.66,144.77 413.68,144.6 414.71,144.44 415.74,144.27 416.77,144.11 417.79,143.94 418.82,143.78 419.85,143.61 420.88,143.45 421.91,143.29 422.93,143.12 423.96,142.96 424.99,142.79 426.02,142.63 427.04,142.46 428.07,142.3 429.1,142.13 430.13,141.97 431.16,141.8 432.18,141.64 433.21,141.48 434.24,141.31 435.27,141.15 436.29,140.98 437.32,140.82 438.35,140.65 439.38,140.49 440.41,140.32 441.43,140.16 442.46,139.99 443.49,139.83 444.52,139.66 445.54,139.5 446.57,139.34 447.6,139.17" fill="none" stroke="#e0505e" stroke-width="1.3" stroke-linejoin="round" stroke-linecap="round" />
</g>
<rect x="262.6" y="16.3" width="185" height="153.65" fill="none" stroke="#111" stroke-width="1.2" />
<text x="262.6" y="182.06" font-size="10.7" text-anchor="middle" fill="#111" stroke="#111" stroke-width="0.16" >0</text>
<line x1="293.43" y1="169.95" x2="293.43" y2="167.65" stroke="#111" stroke-width="1.0" />
<text x="293.43" y="182.06" font-size="10.7" text-anchor="middle" fill="#111" stroke="#111" stroke-width="0.16" >3</text>
<line x1="324.27" y1="169.95" x2="324.27" y2="167.65" stroke="#111" stroke-width="1.0" />
<text x="324.27" y="182.06" font-size="10.7" text-anchor="middle" fill="#111" stroke="#111" stroke-width="0.16" >6</text>
<line x1="355.1" y1="169.95" x2="355.1" y2="167.65" stroke="#111" stroke-width="1.0" />
<text x="355.1" y="182.06" font-size="10.7" text-anchor="middle" fill="#111" stroke="#111" stroke-width="0.16" >9</text>
<line x1="385.93" y1="169.95" x2="385.93" y2="167.65" stroke="#111" stroke-width="1.0" />
<text x="385.93" y="182.06" font-size="10.7" text-anchor="middle" fill="#111" stroke="#111" stroke-width="0.16" >12</text>
<line x1="416.77" y1="169.95" x2="416.77" y2="167.65" stroke="#111" stroke-width="1.0" />
<text x="416.77" y="182.06" font-size="10.7" text-anchor="middle" fill="#111" stroke="#111" stroke-width="0.16" >15</text>
<text x="447.6" y="182.06" font-size="10.7" text-anchor="middle" fill="#111" stroke="#111" stroke-width="0.16" >18</text>
<text x="259.6" y="172.63" font-size="10.7" text-anchor="end" fill="#111" stroke="#111" stroke-width="0.16" >0</text>
<line x1="262.6" y1="134.93" x2="264.9" y2="134.93" stroke="#111" stroke-width="1.0" />
<text x="259.6" y="138.76" font-size="10.7" text-anchor="end" fill="#111" stroke="#111" stroke-width="0.16" >10</text>
<line x1="262.6" y1="101.06" x2="264.9" y2="101.06" stroke="#111" stroke-width="1.0" />
<text x="259.6" y="104.89" font-size="10.7" text-anchor="end" fill="#111" stroke="#111" stroke-width="0.16" >20</text>
<line x1="262.6" y1="67.19" x2="264.9" y2="67.19" stroke="#111" stroke-width="1.0" />
<text x="259.6" y="71.02" font-size="10.7" text-anchor="end" fill="#111" stroke="#111" stroke-width="0.16" >30</text>
<line x1="262.6" y1="33.32" x2="264.9" y2="33.32" stroke="#111" stroke-width="1.0" />
<text x="259.6" y="37.15" font-size="10.7" text-anchor="end" fill="#111" stroke="#111" stroke-width="0.16" >40</text>
<line x1="365.5" y1="69.1" x2="382.6" y2="69.1" stroke="#1c6ea4" stroke-width="1.5" />
<text x="385.6" y="72.7" font-size="9.8" text-anchor="start" fill="#111" stroke="#111" stroke-width="0.16" >Soft</text>
<line x1="365.5" y1="82.55" x2="382.6" y2="82.55" stroke="#2a9a86" stroke-width="1.5" />
<text x="385.6" y="86.15" font-size="9.8" text-anchor="start" fill="#111" stroke="#111" stroke-width="0.16" >Intermediate</text>
<line x1="365.5" y1="96" x2="382.6" y2="96" stroke="#e0505e" stroke-width="1.5" />
<text x="385.6" y="99.6" font-size="9.8" text-anchor="start" fill="#111" stroke="#111" stroke-width="0.16" >Stiff</text>
<text x="355.4" y="191.5" font-size="11" text-anchor="middle" fill="#111" stroke="#111" stroke-width="0.16" >Time (s)</text>
<text transform="translate(244.9,93.4) rotate(-90)" x="0" y="0" font-size="11.3" text-anchor="middle" fill="#111" stroke="#111" stroke-width="0.16">Distance traveled (mm)</text>
<text x="236.5" y="12.6" font-size="17.5" text-anchor="start" fill="#111" stroke="#111" stroke-width="0.16" >b</text>
<defs><clipPath id="cpcSoft"><rect x="488.6" y="16.5" width="191.4" height="44.4"/></clipPath></defs>
<g clip-path="url(#cpcSoft)">
<polyline points="488.6,60.9 489.18,58.23 489.77,55.55 490.35,53.95 490.94,56.9 491.52,51.27 492.11,54.29 492.69,51.42 493.28,54.22 493.86,55.91 494.45,55.61 495.03,55.49 495.62,54.33 496.2,54.49 496.79,53.54 497.37,54.05 497.96,57.69 498.54,56.64 499.13,57.11 499.71,55.01 500.3,55.9 500.88,55.19 501.47,57.69 502.05,55.72 502.64,54.46 503.22,53.58 503.81,56.75 504.39,55.5 504.98,56.21 505.56,55.99 506.15,56.82 506.73,54.02 507.31,54.64 507.9,55.76 508.48,54.67 509.07,57.27 509.65,54.91 510.24,52.25 510.82,54.07 511.41,54.72 511.99,55.88 512.58,56.14 513.16,56.61 513.75,53.39 514.33,51.43 514.92,56.54 515.5,54.82 516.09,56.11 516.67,55.93 517.26,50.88 517.84,52.19 518.43,55.98 519.01,55.8 519.6,55.52 520.18,55.42 520.77,52.72 521.35,53.28 521.94,53.39 522.52,53.91 523.11,57.22 523.69,54.99 524.27,54.32 524.86,53 525.44,55.77 526.03,56.53 526.61,56.6 527.2,54.16 527.78,52.25 528.37,54.92 528.95,55.15 529.54,54.81 530.12,57.69 530.71,56.07 531.29,53.99 531.88,51.46 532.46,53.08 533.05,56.03 533.63,56.85 534.22,55.88 534.8,51.91 535.39,53.72 535.97,54.32 536.56,55.03 537.14,56.51 537.73,55.89 538.31,55.53 538.9,53.16 539.48,54.42 540.07,53.85 540.65,55.47 541.24,55.74 541.82,53.24 542.4,53.61 542.99,52.34 543.57,55.32 544.16,55.55 544.74,57.51 545.33,53.76 545.91,55.43 546.5,56.39 547.08,55.63 547.67,57.51 548.25,55.64 548.84,51.32 549.42,54.31 550.01,54.43 550.59,54.85 551.18,55.62 551.76,56.17 552.35,54.7 552.93,52.29 553.52,52.83 554.1,56.41 554.69,56.36 555.27,55.95 555.86,55.93 556.44,52.92 557.03,54.61 557.61,53.63 558.2,55.95 558.78,55.94 559.36,55.41 559.95,53.46 560.53,56.08 561.12,56.34 561.7,55.68 562.29,57.69 562.87,53.59 563.46,55.69 564.04,52.34 564.63,55.86 565.21,55.08 565.8,55.99 566.38,56.88 566.97,51.73 567.55,51.38 568.14,54.71 568.72,56.43 569.31,56.42 569.89,56.23 570.48,51.99 571.06,53.99 571.65,54.59 572.23,57.06 572.82,57.09 573.4,56.73 573.99,51.84 574.57,53.44 575.16,53.13 575.74,55.92 576.33,57.21 576.91,55.56 577.49,54.34 578.08,53.19 578.66,54.83 579.25,56.27 579.83,57.69 580.42,56.3 581,51.45 581.59,54.07 582.17,55.64 582.76,55.34 583.34,54.45 583.93,57.26 584.51,54.02 585.1,54 585.68,56.49 586.27,54.73 586.85,56.37 587.44,55.31 588.02,54.83 588.61,52.54 589.19,54.76 589.78,55.82 590.36,57.69 590.95,57.12 591.53,52.12 592.12,53.82 592.7,53.56 593.29,55.59 593.87,56.94 594.45,56.26 595.04,53.15 595.62,53.55 596.21,54.07 596.79,55.43 597.38,54.77 597.96,54.76 598.55,53.57 599.13,53.91 599.72,55.63 600.3,54.09 600.89,55.04 601.47,55.94 602.06,53.45 602.64,52.12 603.23,52.6 603.81,54.04 604.4,56.93 604.98,53.8 605.57,55.94 606.15,52.03 606.74,52.97 607.32,54 607.91,53.78 608.49,53.91 609.08,55.9 609.66,55.47 610.25,52.47 610.83,56.43 611.41,56.28 612,54.84 612.58,56.67 613.17,56.07 613.75,53.15 614.34,54.92 614.92,56.56 615.51,55.98 616.09,55.72 616.68,55.31 617.26,53.66 617.85,56.18 618.43,57.69 619.02,55.41 619.6,54.75 620.19,52.78 620.77,54.7 621.36,55.66 621.94,57.48 622.53,57.33 623.11,54.51 623.7,54.42 624.28,52.85 624.87,54.22 625.45,53.38 626.04,57.69 626.62,53.68 627.21,53.55 627.79,53.3 628.38,56.51 628.96,56.65 629.54,55.24 630.13,55.08 630.71,53.38 631.3,53.64 631.88,52.93 632.47,56 633.05,57.69 633.64,56 634.22,56.19 634.81,57.56 635.39,55.08 635.98,54.12 636.56,56.23 637.15,56.74 637.73,54.89 638.32,51.68 638.9,54.07 639.49,55.77 640.07,56.39 640.66,55.21 641.24,52.63 641.83,52.43 642.41,53.89 643,57.15 643.58,55.65 644.17,56.27 644.75,52.32 645.34,54.85 645.92,54.27 646.5,55.68 647.09,57.69 647.67,53.15 648.26,51.91 648.84,53.76 649.43,52.97 650.01,55.08 650.6,57.69 651.18,55.21 651.77,54.03 652.35,53.03 652.94,55.35 653.52,55.86 654.11,56.59 654.69,54.04 655.28,53.59 655.86,53.15 656.45,51.78 657.03,56.15 657.62,56.86 658.2,57.69 658.79,52.03 659.37,51.87 659.96,52.52 660.54,54.42 661.13,56.18 661.71,55.5 662.3,54.56 662.88,53.45 663.47,53.6 664.05,53.2 664.63,55.57 665.22,55.94 665.8,55.1 666.39,54.05 666.97,51.45 667.56,54.45 668.14,56.19 668.73,56.4 669.31,55.9 669.9,53.32 670.48,52.36 671.07,55.55 671.65,56.55 672.24,56.29 672.82,54.37 673.41,55.39 673.99,53.78 674.58,56.07 675.16,55.03 675.75,57.09 676.33,53.85 676.92,51.27 677.5,53.83 678.09,55.63 678.67,55.91 679.26,56.12 679.84,56.05" fill="none" stroke="#1a76a0" stroke-width="1.4" stroke-linejoin="round" stroke-linecap="round" />
</g>
<rect x="488.6" y="16.5" width="191.4" height="44.4" fill="none" stroke="#111" stroke-width="1.2" />
<text x="485.8" y="64.73" font-size="10.7" text-anchor="end" fill="#111" stroke="#111" stroke-width="0.16" >0</text>
<line x1="488.6" y1="50.2" x2="490.9" y2="50.2" stroke="#111" stroke-width="1.0" />
<text x="485.8" y="54.03" font-size="10.7" text-anchor="end" fill="#111" stroke="#111" stroke-width="0.16" >2</text>
<line x1="488.6" y1="39.5" x2="490.9" y2="39.5" stroke="#111" stroke-width="1.0" />
<text x="485.8" y="43.33" font-size="10.7" text-anchor="end" fill="#111" stroke="#111" stroke-width="0.16" >4</text>
<line x1="488.6" y1="28.8" x2="490.9" y2="28.8" stroke="#111" stroke-width="1.0" />
<text x="485.8" y="32.63" font-size="10.7" text-anchor="end" fill="#111" stroke="#111" stroke-width="0.16" >6</text>
<line x1="488.6" y1="18.1" x2="490.9" y2="18.1" stroke="#111" stroke-width="1.0" />
<text x="485.8" y="21.93" font-size="10.7" text-anchor="end" fill="#111" stroke="#111" stroke-width="0.16" >8</text>
<line x1="520.5" y1="60.9" x2="520.5" y2="58.6" stroke="#111" stroke-width="1.0" />
<line x1="552.4" y1="60.9" x2="552.4" y2="58.6" stroke="#111" stroke-width="1.0" />
<line x1="584.3" y1="60.9" x2="584.3" y2="58.6" stroke="#111" stroke-width="1.0" />
<line x1="616.2" y1="60.9" x2="616.2" y2="58.6" stroke="#111" stroke-width="1.0" />
<line x1="648.1" y1="60.9" x2="648.1" y2="58.6" stroke="#111" stroke-width="1.0" />
<text x="493.4" y="27.1" font-size="9.7" text-anchor="start" fill="#111" stroke="#111" stroke-width="0.16" >Soft</text>
<defs><clipPath id="cpcIntermediate"><rect x="488.6" y="70.5" width="191.4" height="44.9"/></clipPath></defs>
<g clip-path="url(#cpcIntermediate)">
<polyline points="488.6,111.66 488.81,111.01 489.03,110.37 489.24,109.73 489.45,109.09 489.66,108.45 489.88,108.52 490.09,108.59 490.3,108.66 490.51,108.73 490.73,108.8 490.94,108.87 491.15,108.94 491.36,109.31 491.58,109.97 491.79,110.63 492,111.28 492.22,111.94 492.43,112.6 492.64,113.26 492.85,112.73 493.07,112.19 493.28,111.66 493.49,111.12 493.7,110.59 493.92,106.48 494.13,104.7 494.34,103.25 494.55,102.34 494.77,102.13 494.98,102.67 495.19,103.9 495.41,105.69 495.62,107.14 495.83,108.8 496.04,110.24 496.26,111.22 496.47,111.58 496.68,111.2 496.89,110.11 497.11,108.4 497.32,106.28 497.53,103.03 497.74,100.28 497.96,98.16 498.17,97.01 498.38,97.13 498.6,98.39 498.81,100.58 499.02,103.41 499.23,107.91 499.45,110.49 499.66,112.53 499.87,113.73 500.08,113.93 500.3,113.09 500.51,111.31 500.72,108.83 500.93,105.82 501.15,103.21 501.36,100.95 501.57,99.37 501.79,98.66 502,98.91 502.21,100.09 502.42,102.01 502.64,104.41 502.85,106.28 503.06,108.52 503.27,110.23 503.49,111.16 503.7,111.18 503.91,110.27 504.12,108.55 504.34,106.24 504.55,104.22 504.76,101.63 504.98,99.45 505.19,97.99 505.4,97.44 505.61,97.85 505.83,99.17 506.04,101.21 506.25,103.67 506.46,106.23 506.68,108.58 506.89,110.3 507.1,111.15 507.31,111.01 507.53,109.88 507.74,107.91 507.95,105.36 508.17,103.44 508.38,101.13 508.59,99.25 508.8,98.05 509.02,97.68 509.23,98.19 509.44,99.5 509.65,101.42 509.87,103.67 510.08,105.82 510.29,108.15 510.5,109.79 510.72,110.5 510.93,110.18 511.14,108.86 511.36,106.72 511.57,104.04 511.78,100.62 511.99,97.99 512.21,95.94 512.42,94.72 512.63,94.51 512.84,95.31 513.06,97.03 513.27,99.41 513.48,102.67 513.69,105.35 513.91,107.62 514.12,109.16 514.33,109.74 514.55,109.29 514.76,107.86 514.97,105.64 515.18,102.93 515.4,101.16 515.61,99.03 515.82,97.4 516.03,96.51 516.25,96.46 516.46,97.27 516.67,98.82 516.88,100.88 517.1,103.44 517.31,106.38 517.52,108.79 517.74,110.33 517.95,110.8 518.16,110.11 518.37,108.36 518.59,105.79 518.8,102.73 519.01,100.08 519.22,97.95 519.44,96.4 519.65,95.62 519.86,95.72 520.07,96.69 520.29,98.38 520.5,100.57 520.71,103.55 520.93,106.49 521.14,108.82 521.35,110.23 521.56,110.51 521.78,109.62 521.99,107.68 522.2,104.94 522.41,99.6 522.63,96.5 522.84,93.84 523.05,91.97 523.26,91.14 523.48,91.48 523.69,92.93 523.9,95.28 524.12,98.21 524.33,101.33 524.54,103.61 524.75,105.35 524.97,106.33 525.18,106.39 525.39,105.53 525.6,103.85 525.82,101.59 526.03,100.41 526.24,97.97 526.45,95.92 526.67,94.54 526.88,94.03 527.09,94.44 527.31,95.72 527.52,97.7 527.73,100.08 527.94,102.22 528.16,104.69 528.37,106.51 528.58,107.43 528.79,107.3 529.01,106.15 529.22,104.11 529.43,101.45 529.64,97.43 529.86,94.41 530.07,91.94 530.28,90.37 530.5,89.89 530.71,90.58 530.92,92.33 531.13,94.89 531.35,97.9 531.56,101.27 531.77,103.59 531.98,105.22 532.2,105.95 532.41,105.66 532.62,104.38 532.83,102.28 533.05,99.63 533.26,95.5 533.47,92.39 533.69,89.93 533.9,88.46 534.11,88.17 534.32,89.09 534.54,91.1 534.75,93.9 534.96,97.43 535.17,99.87 535.39,101.93 535.6,103.32 535.81,103.84 536.02,103.41 536.24,102.08 536.45,100.01 536.66,97.49 536.88,95.2 537.09,92.47 537.3,90.38 537.51,89.21 537.73,89.12 537.94,90.12 538.15,92.06 538.36,94.66 538.58,99.23 538.79,102.43 539,105.06 539.21,106.74 539.43,107.25 539.64,106.48 539.85,104.55 540.07,101.71 540.28,98.34 540.49,93.39 540.7,90.63 540.92,88.59 541.13,87.56 541.34,87.66 541.55,88.88 541.77,91.04 541.98,93.84 542.19,97.99 542.4,100.92 542.62,103.25 542.83,104.65 543.04,104.92 543.26,104.01 543.47,102.04 543.68,99.28 543.89,94.24 544.11,90.84 544.32,87.9 544.53,85.82 544.74,84.89 544.96,85.22 545.17,86.76 545.38,89.29 545.59,92.48 545.81,96.63 546.02,99.28 546.23,101.32 546.45,102.46 546.66,102.54 546.87,101.55 547.08,99.62 547.3,97.01 547.51,94.37 547.72,91.51 547.93,89.11 548.15,87.51 548.36,86.9 548.57,87.39 548.78,88.88 549,91.17 549.21,93.95 549.42,96.3 549.64,98.82 549.85,100.68 550.06,101.63 550.27,101.54 550.49,100.41 550.7,98.38 550.91,95.75 551.12,93.67 551.34,90.98 551.55,88.78 551.76,87.39 551.97,86.98 552.19,87.61 552.4,89.18 552.61,91.48 552.83,94.19 553.04,97.01 553.25,99.63 553.46,101.5 553.68,102.35 553.89,102.06 554.1,100.67 554.31,98.36 554.53,95.44 554.74,93.36 554.95,90.94 555.16,89.02 555.38,87.88 555.59,87.66 555.8,88.39 556.02,89.97 556.23,92.18 556.44,92.8 556.65,95.4 556.87,97.6 557.08,99.1 557.29,99.69 557.5,99.28 557.72,97.93 557.93,95.82 558.14,93.22 558.35,91.08 558.57,88.33 558.78,86.22 558.99,85.06 559.21,84.99 559.42,86.04 559.63,88.04 559.84,90.73 560.06,93.57 560.27,96.39 560.48,98.72 560.69,100.23 560.91,100.7 561.12,100.08 561.33,98.43 561.54,95.99 561.76,93.08 561.97,88.66 562.18,85.57 562.4,83.31 562.61,82.17 562.82,82.32 563.03,83.73 563.25,86.2 563.46,89.39 563.67,95 563.88,98.2 564.1,100.75 564.31,102.31 564.52,102.66 564.73,101.73 564.95,99.66 565.16,96.72 565.37,91.57 565.59,88.24 565.8,85.37 566.01,83.34 566.22,82.44 566.44,82.79 566.65,84.33 566.86,86.86 567.07,90.02 567.29,94.89 567.5,97.97 567.71,100.36 567.92,101.71 568.14,101.84 568.35,100.73 568.56,98.52 568.78,95.51 568.99,92.23 569.2,89.46 569.41,87.12 569.63,85.56 569.84,84.96 570.05,85.42 570.26,86.87 570.48,89.12 570.69,91.83 570.9,93.28 571.11,95.84 571.33,97.76 571.54,98.75 571.75,98.68 571.97,97.55 572.18,95.52 572.39,92.86 572.6,91.26 572.82,88.48 573.03,86.21 573.24,84.76 573.45,84.33 573.67,84.97 573.88,86.61 574.09,89 574.3,91.83 574.52,93.73 574.73,96.33 574.94,98.2 575.16,99.07 575.37,98.82 575.58,97.47 575.79,95.22 576.01,92.37 576.22,90.09 576.43,87.25 576.64,85 576.86,83.66 577.07,83.41 577.28,84.28 577.49,86.15 577.71,88.76 577.92,92.74 578.13,96.34 578.35,99.39 578.56,101.48 578.77,102.32 578.98,101.79 579.2,99.96 579.41,97.07 579.62,93.53 579.83,88.52 580.05,85.51 580.26,83.21 580.47,81.94 580.68,81.87 580.9,83.01 581.11,85.2 581.32,88.14 581.54,90.45 581.75,93.15 581.96,95.37 582.17,96.82 582.39,97.29 582.6,96.71 582.81,95.16 583.02,92.84 583.24,90.08 583.45,88.22 583.66,85.41 583.87,83.35 584.09,82.31 584.3,82.43 584.51,83.71 584.73,85.96 584.94,88.87 585.15,91.35 585.36,94.23 585.58,96.53 585.79,97.95 586,98.27 586.21,97.46 586.43,95.61 586.64,92.99 586.85,89.95 587.06,86.97 587.28,84.13 587.49,82.13 587.7,81.24 587.92,81.58 588.13,83.1 588.34,85.6 588.55,88.72 588.77,90.87 588.98,93.5 589.19,95.53 589.4,96.7 589.62,96.82 589.83,95.89 590.04,94.02 590.25,91.48 590.47,89.36 590.68,86.07 590.89,83.31 591.11,81.45 591.32,80.74 591.53,81.3 591.74,83.02 591.96,85.69 592.17,88.92 592.38,92.84 592.59,95.88 592.81,98.15 593.02,99.34 593.23,99.28 593.44,97.98 593.66,95.61 593.87,92.49 594.08,89.06 594.3,85.98 594.51,83.46 594.72,81.85 594.93,81.37 595.15,82.09 595.36,83.91 595.57,86.57 595.78,89.71 596,93.04 596.21,95.98 596.42,98.09 596.63,99.08 596.85,98.81 597.06,97.31 597.27,94.8 597.49,91.6 597.7,88.01 597.91,84.89 598.12,82.43 598.34,80.95 598.55,80.66 598.76,81.6 598.97,83.64 599.19,86.5 599.4,90.67 599.61,94.25 599.82,97.31 600.04,99.4 600.25,100.25 600.46,99.74 600.68,97.92 600.89,95.06 601.1,91.53 601.31,86.94 601.53,83.81 601.74,81.42 601.95,80.09 602.16,80.01 602.38,81.18 602.59,83.44 602.8,86.48 603.01,88.57 603.23,91.33 603.44,93.6 603.65,95.08 603.87,95.57 604.08,94.98 604.29,93.4 604.5,91.05 604.72,88.24 604.93,86.39 605.14,83.42 605.35,81.23 605.57,80.12 605.78,80.25 605.99,81.58 606.2,83.94 606.42,86.99 606.63,90.43 606.84,93.64 607.06,96.22 607.27,97.8 607.48,98.17 607.69,97.27 607.91,95.22 608.12,92.3 608.33,88.92 608.54,84.89 608.76,81.88 608.97,79.74 609.18,78.79 609.39,79.14 609.61,80.74 609.82,83.37 610.03,86.66 610.25,88.94 610.46,91.6 610.67,93.65 610.88,94.83 611.1,94.96 611.31,94.02 611.52,92.15 611.73,89.58 611.95,86.61 612.16,82.89 612.37,79.75 612.58,77.63 612.8,76.83 613.01,77.44 613.22,79.38 613.44,82.39 613.65,86.03 613.86,91.36 614.07,94.53 614.29,96.91 614.5,98.16 614.71,98.1 614.92,96.75 615.14,94.28 615.35,91.04 615.56,86.47 615.77,83.06 615.99,80.28 616.2,78.5 616.41,77.96 616.63,78.74 616.84,80.73 617.05,83.65 617.26,87.09 617.48,90.73 617.69,93.59 617.9,95.65 618.11,96.62 618.33,96.36 618.54,94.91 618.75,92.46 618.96,89.35 619.18,86.06 619.39,82.88 619.6,80.35 619.82,78.84 620.03,78.53 620.24,79.48 620.45,81.54 620.67,84.44 620.88,89.18 621.09,92.95 621.3,96.16 621.52,98.37 621.73,99.27 621.94,98.73 622.15,96.84 622.37,93.83 622.58,90.14 622.79,86.89 623.01,84.26 623.22,82.23 623.43,81.11 623.64,81.02 623.86,81.99 624.07,83.88 624.28,86.42 624.49,88.37 624.71,91.72 624.92,94.48 625.13,96.29 625.34,96.89 625.56,96.2 625.77,94.3 625.98,91.46 626.2,88.07 626.41,83.96 626.62,80.86 626.83,78.57 627.05,77.43 627.26,77.57 627.47,78.96 627.68,81.42 627.9,84.6 628.11,87.43 628.32,90.31 628.53,92.63 628.75,94.05 628.96,94.4 629.17,93.61 629.39,91.8 629.6,89.22 629.81,86.22 630.02,85.54 630.24,83.12 630.45,81.42 630.66,80.65 630.87,80.94 631.09,82.23 631.3,84.34 631.51,86.98 631.72,89.94 631.94,93.33 632.15,95.97 632.36,97.48 632.58,97.67 632.79,96.51 633,94.16 633.21,90.94 633.43,87.54 633.64,84.74 633.85,82.4 634.06,80.81 634.28,80.21 634.49,80.68 634.7,82.13 634.91,84.38 635.13,87.11 635.34,88.02 635.55,90.65 635.77,92.62 635.98,93.66 636.19,93.63 636.4,92.53 636.62,90.51 636.83,87.86 637.04,84.93 637.25,81.58 637.47,78.85 637.68,77.1 637.89,76.58 638.1,77.36 638.32,79.32 638.53,82.18 638.74,85.57 638.96,89.1 639.17,91.8 639.38,93.74 639.59,94.66 639.81,94.44 640.02,93.1 640.23,90.83 640.44,87.94 640.66,84.39 640.87,81.2 641.08,78.67 641.29,77.16 641.51,76.86 641.72,77.82 641.93,79.89 642.15,82.8 642.36,87.55 642.57,90.95 642.78,93.85 643,95.85 643.21,96.68 643.42,96.21 643.63,94.53 643.85,91.85 644.06,88.55 644.27,84.59 644.48,81.76 644.7,79.59 644.91,78.38 645.12,78.3 645.34,79.35 645.55,81.39 645.76,84.13 645.97,87.52 646.19,90.67 646.4,93.28 646.61,95 646.82,95.57 647.04,94.94 647.25,93.18 647.46,90.54 647.67,87.38 647.89,85.58 648.1,83.27 648.31,81.57 648.53,80.71 648.74,80.8 648.95,81.83 649.16,83.65 649.38,86.02 649.59,87.88 649.8,90.91 650.01,93.36 650.23,94.87 650.44,95.25 650.65,94.44 650.86,92.55 651.08,89.84 651.29,86.68 651.5,83.67 651.72,81.13 651.93,79.32 652.14,78.5 652.35,78.78 652.57,80.12 652.78,82.33 652.99,85.12 653.2,87.9 653.42,90.76 653.63,92.99 653.84,94.29 654.05,94.47 654.27,93.51 654.48,91.53 654.69,88.81 654.91,86.26 655.12,83.44 655.33,81.06 655.54,79.45 655.76,78.82 655.97,79.27 656.18,80.73 656.39,83 656.61,85.77 656.82,88.79 657.03,91.72 657.24,93.92 657.46,95.1 657.67,95.09 657.88,93.89 658.1,91.66 658.31,88.71 658.52,84.49 658.73,81.33 658.95,78.74 659.16,77.08 659.37,76.56 659.58,77.28 659.8,79.11 660.01,81.82 660.22,85.03 660.43,89.52 660.65,92.44 660.86,94.56 661.07,95.58 661.29,95.36 661.5,93.93 661.71,91.48 661.92,88.36 662.14,83.03 662.35,79.68 662.56,77.02 662.77,75.41 662.99,75.07 663.2,76.06 663.41,78.22 663.62,81.28 663.84,86.22 664.05,89.37 664.26,92.06 664.48,93.93 664.69,94.72 664.9,94.31 665.11,92.76 665.33,90.29 665.54,87.23 665.75,83.6 665.96,80.67 666.18,78.42 666.39,77.15 666.6,77.05 666.81,78.12 667.03,80.21 667.24,83.05 667.45,87.28 667.67,90.6 667.88,93.36 668.09,95.19 668.3,95.82 668.52,95.17 668.73,93.33 668.94,90.55 669.15,87.21 669.37,84 669.58,81.41 669.79,79.49 670,78.5 670.22,78.58 670.43,79.72 670.64,81.77 670.86,84.43 671.07,87.98 671.28,91.33 671.49,94.03 671.71,95.71 671.92,96.15 672.13,95.27 672.34,93.2 672.56,90.23 672.77,86.75 672.98,83.84 673.19,81.43 673.41,79.71 673.62,78.92 673.83,79.17 674.05,80.43 674.26,82.52 674.47,85.15 674.68,87.26 674.9,90.2 675.11,92.5 675.32,93.84 675.53,94.04 675.75,93.06 675.96,91.04 676.17,88.26 676.38,85.11 676.6,82.03 676.81,79.42 677.02,77.66 677.24,76.97 677.45,77.46 677.66,79.05 677.87,81.53 678.09,84.55 678.3,86.77 678.51,89.4 678.72,91.38 678.94,92.44 679.15,92.45 679.36,91.39 679.57,89.41 679.79,86.79 680,84.68" fill="none" stroke="#2a9a86" stroke-width="1.2" stroke-linejoin="round" stroke-linecap="round" />
</g>
<rect x="488.6" y="70.5" width="191.4" height="44.9" fill="none" stroke="#111" stroke-width="1.2" />
<text x="485.8" y="119.23" font-size="10.7" text-anchor="end" fill="#111" stroke="#111" stroke-width="0.16" >0</text>
<line x1="488.6" y1="104.7" x2="490.9" y2="104.7" stroke="#111" stroke-width="1.0" />
<text x="485.8" y="108.53" font-size="10.7" text-anchor="end" fill="#111" stroke="#111" stroke-width="0.16" >2</text>
<line x1="488.6" y1="94" x2="490.9" y2="94" stroke="#111" stroke-width="1.0" />
<text x="485.8" y="97.83" font-size="10.7" text-anchor="end" fill="#111" stroke="#111" stroke-width="0.16" >4</text>
<line x1="488.6" y1="83.3" x2="490.9" y2="83.3" stroke="#111" stroke-width="1.0" />
<text x="485.8" y="87.13" font-size="10.7" text-anchor="end" fill="#111" stroke="#111" stroke-width="0.16" >6</text>
<line x1="488.6" y1="72.6" x2="490.9" y2="72.6" stroke="#111" stroke-width="1.0" />
<text x="485.8" y="76.43" font-size="10.7" text-anchor="end" fill="#111" stroke="#111" stroke-width="0.16" >8</text>
<line x1="520.5" y1="115.4" x2="520.5" y2="113.1" stroke="#111" stroke-width="1.0" />
<line x1="552.4" y1="115.4" x2="552.4" y2="113.1" stroke="#111" stroke-width="1.0" />
<line x1="584.3" y1="115.4" x2="584.3" y2="113.1" stroke="#111" stroke-width="1.0" />
<line x1="616.2" y1="115.4" x2="616.2" y2="113.1" stroke="#111" stroke-width="1.0" />
<line x1="648.1" y1="115.4" x2="648.1" y2="113.1" stroke="#111" stroke-width="1.0" />
<text x="493.4" y="81.1" font-size="9.7" text-anchor="start" fill="#111" stroke="#111" stroke-width="0.16" >Intermediate</text>
<defs><clipPath id="cpcStiff"><rect x="488.6" y="124.6" width="191.4" height="44.6"/></clipPath></defs>
<g clip-path="url(#cpcStiff)">
<polyline points="488.6,168.93 488.81,166.35 489.03,166.23 489.24,165.89 489.45,166.01 489.66,166.06 489.88,166.22 490.09,166.5 490.3,166.7 490.51,167.16 490.73,167.62 490.94,167.97 491.15,168.1 491.36,167.84 491.58,167.8 491.79,167.55 492,167.54 492.22,166.96 492.43,166.73 492.64,166.45 492.85,166.35 493.07,166.03 493.28,166.09 493.49,166.44 493.7,167 493.92,167.32 494.13,167.51 494.34,167.85 494.55,168.02 494.77,168.09 494.98,168.03 495.19,167.71 495.41,167.61 495.62,167.3 495.83,167.2 496.04,166.5 496.26,166.13 496.47,165.73 496.68,165.96 496.89,166.05 497.11,166.33 497.32,166.43 497.53,166.97 497.74,167.53 497.96,168.19 498.17,168.41 498.38,168.17 498.6,167.85 498.81,167.58 499.02,167.52 499.23,167.29 499.45,166.62 499.66,166.48 499.87,166.14 500.08,166.36 500.3,165.92 500.51,166.31 500.72,166.5 500.93,167.18 501.15,167.55 501.36,167.69 501.57,167.66 501.79,167.73 502,168.01 502.21,168.21 502.42,167.95 502.64,167.5 502.85,166.89 503.06,166.49 503.27,166.33 503.49,166.14 503.7,166.09 503.91,165.88 504.12,165.87 504.34,166.2 504.55,166.83 504.76,167.45 504.98,167.83 505.19,168.05 505.4,168.15 505.61,168.15 505.83,167.8 506.04,167.51 506.25,166.99 506.46,166.7 506.68,166.44 506.89,166.32 507.1,166.19 507.31,166.17 507.53,166.16 507.74,166.39 507.95,166.84 508.17,167.24 508.38,167.77 508.59,167.98 508.8,168.2 509.02,168.34 509.23,168.16 509.44,167.88 509.65,167.32 509.87,167.01 510.08,166.7 510.29,166.48 510.5,166.23 510.72,166.16 510.93,166.07 511.14,166.38 511.36,166.57 511.57,166.93 511.78,167.18 511.99,167.61 512.21,167.82 512.42,168.15 512.63,168.04 512.84,167.93 513.06,167.43 513.27,167.09 513.48,166.82 513.69,166.53 513.91,166.2 514.12,165.88 514.33,165.78 514.55,166.14 514.76,166.35 514.97,166.55 515.18,166.61 515.4,167.03 515.61,167.69 515.82,167.92 516.03,168.07 516.25,168.14 516.46,168.03 516.67,167.9 516.88,167.38 517.1,167.13 517.31,166.44 517.52,166.06 517.74,165.8 517.95,165.75 518.16,165.64 518.37,165.95 518.59,166.54 518.8,167.28 519.01,167.72 519.22,167.93 519.44,167.91 519.65,167.85 519.86,167.69 520.07,167.61 520.29,167.31 520.5,166.97 520.71,166.42 520.93,165.96 521.14,165.77 521.35,165.79 521.56,165.93 521.78,166.29 521.99,166.75 522.2,167.08 522.41,167.35 522.63,167.45 522.84,167.99 523.05,168.17 523.26,168.29 523.48,168.04 523.69,168.02 523.9,167.64 524.12,167.04 524.33,166.34 524.54,166.08 524.75,166.01 524.97,165.92 525.18,166.28 525.39,166.52 525.6,166.87 525.82,166.82 526.03,166.96 526.24,167.21 526.45,167.48 526.67,167.75 526.88,167.75 527.09,167.67 527.31,167.42 527.52,167.04 527.73,166.35 527.94,166.02 528.16,165.87 528.37,165.95 528.58,165.76 528.79,165.9 529.01,166.01 529.22,166.64 529.43,167.04 529.64,167.61 529.86,167.69 530.07,167.72 530.28,167.93 530.5,168.05 530.71,167.91 530.92,167.48 531.13,167.18 531.35,166.72 531.56,166.25 531.77,165.78 531.98,165.87 532.2,165.85 532.41,166.13 532.62,166.23 532.83,166.83 533.05,167.29 533.26,167.75 533.47,167.98 533.69,167.93 533.9,167.93 534.11,167.81 534.32,167.63 534.54,167.36 534.75,166.75 534.96,166.47 535.17,166.19 535.39,165.97 535.6,165.56 535.81,165.35 536.02,165.72 536.24,166.29 536.45,166.73 536.66,167.13 536.88,167.6 537.09,168 537.3,168.02 537.51,167.96 537.73,167.99 537.94,167.93 538.15,167.38 538.36,166.89 538.58,166.38 538.79,166.18 539,165.86 539.21,165.89 539.43,165.99 539.64,166.44 539.85,166.79 540.07,167.36 540.28,167.48 540.49,167.73 540.7,167.88 540.92,168.11 541.13,168.04 541.34,167.64 541.55,167.47 541.77,167.19 541.98,166.95 542.19,166.12 542.4,165.64 542.62,165.51 542.83,165.79 543.04,165.84 543.26,166.15 543.47,166.64 543.68,167.13 543.89,167.39 544.11,167.52 544.32,167.87 544.53,167.69 544.74,167.42 544.96,167.03 545.17,166.84 545.38,166.92 545.59,166.55 545.81,166.36 546.02,165.87 546.23,165.82 546.45,165.93 546.66,166.42 546.87,166.79 547.08,167.21 547.3,167.42 547.51,167.86 547.72,168.04 547.93,168.38 548.15,168.1 548.36,167.84 548.57,167.12 548.78,166.66 549,166.31 549.21,166.33 549.42,166.43 549.64,166.44 549.85,166.28 550.06,166.3 550.27,166.66 550.49,166.9 550.7,167.48 550.91,167.55 551.12,167.9 551.34,167.94 551.55,168.03 551.76,167.99 551.97,167.8 552.19,167.68 552.4,167.24 552.61,166.56 552.83,165.78 553.04,165.39 553.25,165.43 553.46,165.81 553.68,165.98 553.89,166.37 554.1,166.66 554.31,167.26 554.53,167.59 554.74,167.89 554.95,168.01 555.16,168.16 555.38,168.01 555.59,167.45 555.8,166.98 556.02,166.58 556.23,166.43 556.44,166.04 556.65,165.97 556.87,166.01 557.08,166.08 557.29,166.13 557.5,166.41 557.72,166.71 557.93,167.2 558.14,167.53 558.35,168.02 558.57,167.84 558.78,168.05 558.99,167.88 559.21,167.84 559.42,167.15 559.63,166.61 559.84,166.02 560.06,166.04 560.27,165.88 560.48,166.09 560.69,166.12 560.91,166.41 561.12,166.83 561.33,167.39 561.54,167.86 561.76,168.23 561.97,168.24 562.18,168.19 562.4,167.87 562.61,167.37 562.82,167.12 563.03,166.97 563.25,166.89 563.46,166.66 563.67,166.39 563.88,166.15 564.1,166.16 564.31,166.44 564.52,166.7 564.73,167 564.95,167.09 565.16,167.51 565.37,167.68 565.59,167.86 565.8,167.72 566.01,167.6 566.22,167.3 566.44,167.05 566.65,166.91 566.86,166.61 567.07,166.4 567.29,166.01 567.5,166.11 567.71,165.97 567.92,166.21 568.14,166.51 568.35,167.3 568.56,167.73 568.78,167.91 568.99,168.01 569.2,168.06 569.41,168.08 569.63,167.74 569.84,167.55 570.05,167.11 570.26,166.67 570.48,165.92 570.69,165.77 570.9,165.81 571.11,166.24 571.33,166.16 571.54,166.5 571.75,166.81 571.97,167.29 572.18,167.63 572.39,167.98 572.6,168.22 572.82,168.41 573.03,168.38 573.24,168.15 573.45,167.54 573.67,167.01 573.88,166.8 574.09,166.56 574.3,166.21 574.52,165.82 574.73,165.82 574.94,166.22 575.16,166.5 575.37,166.93 575.58,167.35 575.79,167.87 576.01,167.88 576.22,167.85 576.43,167.6 576.64,167.7 576.86,167.35 577.07,167.22 577.28,166.8 577.49,166.25 577.71,165.78 577.92,165.64 578.13,165.91 578.35,166.06 578.56,166.07 578.77,166.45 578.98,167.08 579.2,167.64 579.41,167.9 579.62,167.9 579.83,167.79 580.05,167.71 580.26,167.43 580.47,167.44 580.68,167.01 580.9,166.47 581.11,165.89 581.32,165.7 581.54,165.8 581.75,165.68 581.96,165.97 582.17,166.26 582.39,166.77 582.6,166.94 582.81,167.35 583.02,167.66 583.24,167.97 583.45,167.95 583.66,167.91 583.87,167.8 584.09,167.49 584.3,166.99 584.51,166.59 584.73,166.3 584.94,166.1 585.15,166.02 585.36,166.01 585.58,166.41 585.79,166.43 586,166.53 586.21,166.52 586.43,167.04 586.64,167.5 586.85,167.87 587.06,167.83 587.28,167.59 587.49,167.51 587.7,167.05 587.92,166.86 588.13,166.16 588.34,165.97 588.55,165.87 588.77,165.96 588.98,165.99 589.19,166.12 589.4,166.42 589.62,166.95 589.83,167.6 590.04,167.87 590.25,167.94 590.47,167.75 590.68,167.81 590.89,167.58 591.11,167.36 591.32,167.1 591.53,166.87 591.74,166.32 591.96,166.14 592.17,165.83 592.38,166.06 592.59,166.16 592.81,166.41 593.02,166.69 593.23,167.1 593.44,167.66 593.66,167.83 593.87,167.7 594.08,167.76 594.3,167.73 594.51,167.56 594.72,167.27 594.93,166.9 595.15,166.62 595.36,166.28 595.57,166.16 595.78,166.06 596,166.03 596.21,166.23 596.42,166.58 596.63,166.81 596.85,167.09 597.06,167.28 597.27,167.53 597.49,167.62 597.7,167.45 597.91,167.56 598.12,167.27 598.34,167.25 598.55,166.53 598.76,166.06 598.97,165.97 599.19,166.14 599.4,166.22 599.61,165.97 599.82,165.98 600.04,166.4 600.25,166.81 600.46,167.2 600.68,167.52 600.89,167.68 601.1,168.13 601.31,168 601.53,168.07 601.74,167.37 601.95,167.12 602.16,166.72 602.38,166.45 602.59,166.27 602.8,166.13 603.01,166.37 603.23,166.4 603.44,166.49 603.65,166.51 603.87,166.91 604.08,167.2 604.29,167.62 604.5,167.8 604.72,167.91 604.93,167.68 605.14,167.49 605.35,167.27 605.57,167.05 605.78,166.62 605.99,166.38 606.2,166 606.42,165.97 606.63,165.85 606.84,166.26 607.06,166.46 607.27,166.83 607.48,167.17 607.69,167.3 607.91,167.57 608.12,167.43 608.33,167.57 608.54,167.56 608.76,167.56 608.97,167.28 609.18,166.81 609.39,166.39 609.61,166.19 609.82,166.24 610.03,166.22 610.25,166.56 610.46,166.51 610.67,166.9 610.88,167.09 611.1,167.54 611.31,167.73 611.52,168.05 611.73,168.33 611.95,168.45 612.16,168.35 612.37,167.95 612.58,167.26 612.8,166.75 613.01,166.21 613.22,166.31 613.44,166 613.65,166.12 613.86,166.1 614.07,166.33 614.29,166.42 614.5,166.77 614.71,167.19 614.92,167.82 615.14,167.96 615.35,168.05 615.56,167.73 615.77,167.58 615.99,167.01 616.2,166.99 616.41,166.64 616.63,166.43 616.84,166 617.05,165.97 617.26,166.16 617.48,166.47 617.69,166.65 617.9,166.68 618.11,166.74 618.33,167.24 618.54,167.92 618.75,168.25 618.96,167.99 619.18,167.84 619.39,167.62 619.6,167.28 619.82,166.69 620.03,166.29 620.24,166.25 620.45,166.36 620.67,166.36 620.88,166.59 621.09,166.53 621.3,166.84 621.52,166.88 621.73,167.11 621.94,167.21 622.15,167.64 622.37,167.86 622.58,167.81 622.79,167.58 623.01,167.51 623.22,167.31 623.43,167.03 623.64,166.38 623.86,166.41 624.07,166.21 624.28,166.42 624.49,166.29 624.71,166.39 624.92,166.67 625.13,167.05 625.34,167.3 625.56,167.89 625.77,168.05 625.98,168.33 626.2,167.95 626.41,167.7 626.62,167.4 626.83,167.12 627.05,166.67 627.26,166.19 627.47,165.97 627.68,165.72 627.9,165.53 628.11,165.81 628.32,166.32 628.53,166.66 628.75,166.76 628.96,167.11 629.17,167.71 629.39,168.02 629.6,168.07 629.81,167.98 630.02,167.55 630.24,167.23 630.45,166.84 630.66,166.72 630.87,166.38 631.09,166.25 631.3,166.08 631.51,166.03 631.72,166.1 631.94,166.34 632.15,166.8 632.36,167.21 632.58,167.62 632.79,167.92 633,167.93 633.21,168 633.43,167.61 633.64,167.41 633.85,167 634.06,166.85 634.28,166.59 634.49,166.22 634.7,166.11 634.91,165.88 635.13,166.14 635.34,166.59 635.55,167.17 635.77,167.71 635.98,167.79 636.19,167.86 636.4,167.71 636.62,167.92 636.83,168.06 637.04,167.69 637.25,167.16 637.47,166.69 637.68,166.41 637.89,165.82 638.1,165.43 638.32,165.45 638.53,165.76 638.74,166.03 638.96,166.42 639.17,166.96 639.38,167.41 639.59,167.8 639.81,167.93 640.02,168.07 640.23,167.66 640.44,167.62 640.66,167.38 640.87,167.35 641.08,166.81 641.29,166.3 641.51,166.04 641.72,166.02 641.93,166.3 642.15,166.45 642.36,166.51 642.57,166.62 642.78,167.01 643,167.5 643.21,167.82 643.42,167.86 643.63,167.98 643.85,167.97 644.06,168.07 644.27,167.85 644.48,167.25 644.7,166.91 644.91,166.47 645.12,166.38 645.34,166.01 645.55,166.07 645.76,166.25 645.97,166.46 646.19,166.72 646.4,167.33 646.61,167.71 646.82,168.1 647.04,168.12 647.25,168.12 647.46,167.84 647.67,167.43 647.89,167.2 648.1,166.79 648.31,166.38 648.53,165.85 648.74,165.57 648.95,165.64 649.16,165.85 649.38,166.1 649.59,166.55 649.8,166.87 650.01,167.42 650.23,167.64 650.44,168.14 650.65,168.33 650.86,168.29 651.08,167.82 651.29,167.32 651.5,166.98 651.72,166.74 651.93,166.6 652.14,166.24 652.35,166.07 652.57,165.84 652.78,165.77 652.99,165.96 653.2,166.55 653.42,167.25 653.63,167.8 653.84,168.09 654.05,168.04 654.27,167.93 654.48,167.92 654.69,167.82 654.91,167.4 655.12,166.89 655.33,166.67 655.54,166.52 655.76,166.18 655.97,165.88 656.18,165.69 656.39,165.71 656.61,165.91 656.82,166.23 657.03,166.68 657.24,167.38 657.46,167.86 657.67,168.09 657.88,168 658.1,167.77 658.31,167.63 658.52,167.38 658.73,166.93 658.95,166.43 659.16,165.96 659.37,165.8 659.58,165.66 659.8,165.69 660.01,166.3 660.22,166.81 660.43,167.27 660.65,167.47 660.86,167.71 661.07,167.76 661.29,167.84 661.5,168.01 661.71,167.76 661.92,167.5 662.14,167.16 662.35,167.01 662.56,166.53 662.77,166.17 662.99,165.92 663.2,165.99 663.41,166.11 663.62,166.41 663.84,166.57 664.05,166.91 664.26,167.27 664.48,167.7 664.69,167.49 664.9,167.72 665.11,167.49 665.33,167.66 665.54,167.29 665.75,167.01 665.96,166.51 666.18,165.99 666.39,165.78 666.6,165.83 666.81,166.05 667.03,166.17 667.24,166.28 667.45,166.39 667.67,166.78 667.88,167.09 668.09,167.36 668.3,167.58 668.52,167.95 668.73,168.19 668.94,168.16 669.15,167.46 669.37,167.04 669.58,166.33 669.79,166.13 670,165.59 670.22,165.52 670.43,165.66 670.64,166.08 670.86,166.49 671.07,166.82 671.28,167.24 671.49,167.6 671.71,167.68 671.92,167.97 672.13,167.93 672.34,168.11 672.56,167.61 672.77,167.19 672.98,166.7 673.19,166.27 673.41,166.28 673.62,165.95 673.83,166.07 674.05,165.89 674.26,166.23 674.47,166.8 674.68,167.35 674.9,167.72 675.11,167.52 675.32,167.62 675.53,167.71 675.75,168.03 675.96,167.7 676.17,167.22 676.38,166.67 676.6,166.5 676.81,166.58 677.02,166.21 677.24,165.71 677.45,165.41 677.66,165.51 677.87,166.04 678.09,166.6 678.3,166.97 678.51,167.55 678.72,167.75 678.94,168.07 679.15,167.85 679.36,167.68 679.57,167.44 679.79,167.32 680,167.88" fill="none" stroke="#e0505e" stroke-width="1.4" stroke-linejoin="round" stroke-linecap="round" />
</g>
<rect x="488.6" y="124.6" width="191.4" height="44.6" fill="none" stroke="#111" stroke-width="1.2" />
<text x="485.8" y="173.03" font-size="10.7" text-anchor="end" fill="#111" stroke="#111" stroke-width="0.16" >0</text>
<line x1="488.6" y1="158.5" x2="490.9" y2="158.5" stroke="#111" stroke-width="1.0" />
<text x="485.8" y="162.33" font-size="10.7" text-anchor="end" fill="#111" stroke="#111" stroke-width="0.16" >2</text>
<line x1="488.6" y1="147.8" x2="490.9" y2="147.8" stroke="#111" stroke-width="1.0" />
<text x="485.8" y="151.63" font-size="10.7" text-anchor="end" fill="#111" stroke="#111" stroke-width="0.16" >4</text>
<line x1="488.6" y1="137.1" x2="490.9" y2="137.1" stroke="#111" stroke-width="1.0" />
<text x="485.8" y="140.93" font-size="10.7" text-anchor="end" fill="#111" stroke="#111" stroke-width="0.16" >6</text>
<line x1="488.6" y1="126.4" x2="490.9" y2="126.4" stroke="#111" stroke-width="1.0" />
<text x="485.8" y="130.23" font-size="10.7" text-anchor="end" fill="#111" stroke="#111" stroke-width="0.16" >8</text>
<line x1="520.5" y1="169.2" x2="520.5" y2="166.9" stroke="#111" stroke-width="1.0" />
<line x1="552.4" y1="169.2" x2="552.4" y2="166.9" stroke="#111" stroke-width="1.0" />
<line x1="584.3" y1="169.2" x2="584.3" y2="166.9" stroke="#111" stroke-width="1.0" />
<line x1="616.2" y1="169.2" x2="616.2" y2="166.9" stroke="#111" stroke-width="1.0" />
<line x1="648.1" y1="169.2" x2="648.1" y2="166.9" stroke="#111" stroke-width="1.0" />
<text x="493.4" y="135.2" font-size="9.7" text-anchor="start" fill="#111" stroke="#111" stroke-width="0.16" >Stiff</text>
<text x="488.6" y="181.86" font-size="10.7" text-anchor="middle" fill="#111" stroke="#111" stroke-width="0.16" >0</text>
<text x="520.5" y="181.86" font-size="10.7" text-anchor="middle" fill="#111" stroke="#111" stroke-width="0.16" >3</text>
<text x="552.4" y="181.86" font-size="10.7" text-anchor="middle" fill="#111" stroke="#111" stroke-width="0.16" >6</text>
<text x="584.3" y="181.86" font-size="10.7" text-anchor="middle" fill="#111" stroke="#111" stroke-width="0.16" >9</text>
<text x="616.2" y="181.86" font-size="10.7" text-anchor="middle" fill="#111" stroke="#111" stroke-width="0.16" >12</text>
<text x="648.1" y="181.86" font-size="10.7" text-anchor="middle" fill="#111" stroke="#111" stroke-width="0.16" >15</text>
<text x="680" y="181.86" font-size="10.7" text-anchor="middle" fill="#111" stroke="#111" stroke-width="0.16" >18</text>
<text x="584.2" y="191.4" font-size="11" text-anchor="middle" fill="#111" stroke="#111" stroke-width="0.16" >Time (s)</text>
<text transform="translate(472.3,95) rotate(-90)" x="0" y="0" font-size="11.1" text-anchor="middle" fill="#111" stroke="#111" stroke-width="0.16">Instantaneous speed (mm/s)</text>
<text x="463.6" y="13.3" font-size="17.5" text-anchor="start" fill="#111" stroke="#111" stroke-width="0.16" >c</text>
<defs><clipPath id="cpd"><rect x="28.7" y="217.9" width="145.7" height="154"/></clipPath></defs>
<g clip-path="url(#cpd)">
<polyline points="28.7,371.7 28.88,371.63 29.06,371.56 29.25,371.49 29.43,371.42 29.61,371.35 29.79,371.28 29.97,371.21 30.16,371.14 30.34,371.06 30.52,370.99 30.7,370.92 30.89,370.85 31.07,370.78 31.25,370.71 31.43,370.64 31.61,370.57 31.8,370.5 31.98,370.43 32.16,370.36 32.34,370.28 32.52,370.21 32.71,370.14 32.89,370.07 33.07,370 33.25,369.93 33.44,369.86 33.62,369.79 33.8,369.71 33.98,369.64 34.16,369.57 34.35,369.5 34.53,369.43 34.71,369.36 34.89,369.29 35.07,369.21 35.26,369.14 35.44,369.07 35.62,369 35.8,368.93 35.98,368.86 36.17,368.78 36.35,368.71 36.53,368.64 36.71,368.57 36.9,368.5 37.08,368.42 37.26,368.35 37.44,368.28 37.62,368.21 37.81,368.14 37.99,368.06 38.17,367.99 38.35,367.92 38.53,367.85 38.72,367.78 38.9,367.7 39.08,367.63 39.26,367.56 39.45,367.49 39.63,367.41 39.81,367.34 39.99,367.27 40.17,367.2 40.36,367.12 40.54,367.05 40.72,366.98 40.9,366.91 41.08,366.83 41.27,366.76 41.45,366.69 41.63,366.62 41.81,366.54 42,366.47 42.18,366.4 42.36,366.33 42.54,366.25 42.72,366.18 42.91,366.11 43.09,366.03 43.27,365.96 43.45,365.89 43.63,365.81 43.82,365.74 44,365.67 44.18,365.59 44.36,365.52 44.54,365.45 44.73,365.37 44.91,365.3 45.09,365.23 45.27,365.15 45.46,365.08 45.64,365.01 45.82,364.93 46,364.86 46.18,364.79 46.37,364.71 46.55,364.64 46.73,364.57 46.91,364.49 47.09,364.42 47.28,364.35 47.46,364.27 47.64,364.2 47.82,364.12 48.01,364.05 48.19,363.98 48.37,363.9 48.55,363.83 48.73,363.75 48.92,363.68 49.1,363.61 49.28,363.53 49.46,363.46 49.64,363.38 49.83,363.31 50.01,363.24 50.19,363.16 50.37,363.09 50.56,363.01 50.74,362.94 50.92,362.86 51.1,362.79 51.28,362.71 51.47,362.64 51.65,362.57 51.83,362.49 52.01,362.42 52.19,362.34 52.38,362.27 52.56,362.19 52.74,362.12 52.92,362.04 53.1,361.97 53.29,361.89 53.47,361.82 53.65,361.74 53.83,361.67 54.02,361.59 54.2,361.52 54.38,361.44 54.56,361.37 54.74,361.29 54.93,361.22 55.11,361.14 55.29,361.07 55.47,360.99 55.65,360.92 55.84,360.84 56.02,360.77 56.2,360.69 56.38,360.62 56.57,360.54 56.75,360.47 56.93,360.39 57.11,360.32 57.29,360.24 57.48,360.16 57.66,360.09 57.84,360.01 58.02,359.94 58.2,359.86 58.39,359.79 58.57,359.71 58.75,359.63 58.93,359.56 59.11,359.48 59.3,359.41 59.48,359.33 59.66,359.26 59.84,359.18 60.03,359.1 60.21,359.03 60.39,358.95 60.57,358.87 60.75,358.8 60.94,358.72 61.12,358.65 61.3,358.57 61.48,358.49 61.66,358.42 61.85,358.34 62.03,358.26 62.21,358.19 62.39,358.11 62.58,358.04 62.76,357.96 62.94,357.88 63.12,357.81 63.3,357.73 63.49,357.65 63.67,357.58 63.85,357.5 64.03,357.42 64.21,357.35 64.4,357.27 64.58,357.19 64.76,357.12 64.94,357.04 65.12,356.96 65.31,356.88 65.49,356.81 65.67,356.73 65.85,356.65 66.04,356.58 66.22,356.5 66.4,356.42 66.58,356.35 66.76,356.27 66.95,356.19 67.13,356.11 67.31,356.04 67.49,355.96 67.67,355.88 67.86,355.8 68.04,355.73 68.22,355.65 68.4,355.57 68.59,355.49 68.77,355.42 68.95,355.34 69.13,355.26 69.31,355.18 69.5,355.11 69.68,355.03 69.86,354.95 70.04,354.87 70.22,354.79 70.41,354.72 70.59,354.64 70.77,354.56 70.95,354.48 71.14,354.41 71.32,354.33 71.5,354.25 71.68,354.17 71.86,354.09 72.05,354.01 72.23,353.94 72.41,353.86 72.59,353.78 72.77,353.7 72.96,353.62 73.14,353.55 73.32,353.47 73.5,353.39 73.68,353.31 73.87,353.23 74.05,353.15 74.23,353.07 74.41,353 74.6,352.92 74.78,352.84 74.96,352.76 75.14,352.68 75.32,352.6 75.51,352.52 75.69,352.45 75.87,352.37 76.05,352.29 76.23,352.21 76.42,352.13 76.6,352.05 76.78,351.97 76.96,351.89 77.15,351.81 77.33,351.73 77.51,351.66 77.69,351.58 77.87,351.5 78.06,351.42 78.24,351.34 78.42,351.26 78.6,351.18 78.78,351.1 78.97,351.02 79.15,350.94 79.33,350.86 79.51,350.78 79.7,350.7 79.88,350.62 80.06,350.54 80.24,350.46 80.42,350.38 80.61,350.31 80.79,350.23 80.97,350.15 81.15,350.07 81.33,349.99 81.52,349.91 81.7,349.83 81.88,349.75 82.06,349.67 82.24,349.59 82.43,349.51 82.61,349.43 82.79,349.35 82.97,349.27 83.16,349.19 83.34,349.11 83.52,349.03 83.7,348.95 83.88,348.87 84.07,348.79 84.25,348.71 84.43,348.62 84.61,348.54 84.79,348.46 84.98,348.38 85.16,348.3 85.34,348.22 85.52,348.14 85.71,348.06 85.89,347.98 86.07,347.9 86.25,347.82 86.43,347.74 86.62,347.66 86.8,347.58 86.98,347.5 87.16,347.42 87.34,347.33 87.53,347.25 87.71,347.17 87.89,347.09 88.07,347.01 88.25,346.93 88.44,346.85 88.62,346.77 88.8,346.69 88.98,346.61 89.17,346.52 89.35,346.44 89.53,346.36 89.71,346.28 89.89,346.2 90.08,346.12 90.26,346.04 90.44,345.95 90.62,345.87 90.8,345.79 90.99,345.71 91.17,345.63 91.35,345.55 91.53,345.47 91.72,345.38 91.9,345.3 92.08,345.22 92.26,345.14 92.44,345.06 92.63,344.98 92.81,344.89 92.99,344.81 93.17,344.73 93.35,344.65 93.54,344.57 93.72,344.48 93.9,344.4 94.08,344.32 94.27,344.24 94.45,344.16 94.63,344.07 94.81,343.99 94.99,343.91 95.18,343.83 95.36,343.74 95.54,343.66 95.72,343.58 95.9,343.5 96.09,343.41 96.27,343.33 96.45,343.25 96.63,343.17 96.81,343.08 97,343 97.18,342.92 97.36,342.84 97.54,342.75 97.73,342.67 97.91,342.59 98.09,342.51 98.27,342.42 98.45,342.34 98.64,342.26 98.82,342.17 99,342.09 99.18,342.01 99.36,341.93 99.55,341.84 99.73,341.76 99.91,341.68 100.09,341.59 100.28,341.51 100.46,341.43 100.64,341.34 100.82,341.26 101,341.18 101.19,341.09 101.37,341.01 101.55,340.93 101.73,340.84 101.91,340.76 102.1,340.68 102.28,340.59 102.46,340.51 102.64,340.43 102.82,340.34 103.01,340.26 103.19,340.17 103.37,340.09 103.55,340.01 103.74,339.92 103.92,339.84 104.1,339.76 104.28,339.67 104.46,339.59 104.65,339.5 104.83,339.42 105.01,339.34 105.19,339.25 105.37,339.17 105.56,339.08 105.74,339 105.92,338.92 106.1,338.83 106.29,338.75 106.47,338.66 106.65,338.58 106.83,338.49 107.01,338.41 107.2,338.33 107.38,338.24 107.56,338.16 107.74,338.07 107.92,337.99 108.11,337.9 108.29,337.82 108.47,337.73 108.65,337.65 108.84,337.56 109.02,337.48 109.2,337.39 109.38,337.31 109.56,337.23 109.75,337.14 109.93,337.06 110.11,336.97 110.29,336.89 110.47,336.8 110.66,336.72 110.84,336.63 111.02,336.55 111.2,336.46 111.38,336.38 111.57,336.29 111.75,336.2 111.93,336.12 112.11,336.03 112.3,335.95 112.48,335.86 112.66,335.78 112.84,335.69 113.02,335.61 113.21,335.52 113.39,335.44 113.57,335.35 113.75,335.27 113.93,335.18 114.12,335.09 114.3,335.01 114.48,334.92 114.66,334.84 114.85,334.75 115.03,334.67 115.21,334.58 115.39,334.49 115.57,334.41 115.76,334.32 115.94,334.24 116.12,334.15 116.3,334.06 116.48,333.98 116.67,333.89 116.85,333.81 117.03,333.72 117.21,333.63 117.39,333.55 117.58,333.46 117.76,333.37 117.94,333.29 118.12,333.2 118.31,333.12 118.49,333.03 118.67,332.94 118.85,332.86 119.03,332.77 119.22,332.68 119.4,332.6 119.58,332.51 119.76,332.42 119.94,332.34 120.13,332.25 120.31,332.16 120.49,332.08 120.67,331.99 120.86,331.9 121.04,331.82 121.22,331.73 121.4,331.64 121.58,331.56 121.77,331.47 121.95,331.38 122.13,331.29 122.31,331.21 122.49,331.12 122.68,331.03 122.86,330.95 123.04,330.86 123.22,330.77 123.41,330.68 123.59,330.6 123.77,330.51 123.95,330.42 124.13,330.33 124.32,330.25 124.5,330.16 124.68,330.07 124.86,329.98 125.04,329.9 125.23,329.81 125.41,329.72 125.59,329.63 125.77,329.55 125.95,329.46 126.14,329.37 126.32,329.28 126.5,329.19 126.68,329.11 126.87,329.02 127.05,328.93 127.23,328.84 127.41,328.76 127.59,328.67 127.78,328.58 127.96,328.49 128.14,328.4 128.32,328.31 128.5,328.23 128.69,328.14 128.87,328.05 129.05,327.96 129.23,327.87 129.42,327.79 129.6,327.7 129.78,327.61 129.96,327.52 130.14,327.43 130.33,327.34 130.51,327.25 130.69,327.17 130.87,327.08 131.05,326.99 131.24,326.9 131.42,326.81 131.6,326.72 131.78,326.63 131.96,326.54 132.15,326.46 132.33,326.37 132.51,326.28 132.69,326.19 132.88,326.1 133.06,326.01 133.24,325.92 133.42,325.83 133.6,325.74 133.79,325.65 133.97,325.57 134.15,325.48 134.33,325.39 134.51,325.3 134.7,325.21 134.88,325.12 135.06,325.03 135.24,324.94 135.43,324.85 135.61,324.76 135.79,324.67 135.97,324.58 136.15,324.49 136.34,324.4 136.52,324.31 136.7,324.22 136.88,324.13 137.06,324.04 137.25,323.96 137.43,323.87 137.61,323.78 137.79,323.69 137.98,323.6 138.16,323.51 138.34,323.42 138.52,323.33 138.7,323.24 138.89,323.15 139.07,323.06 139.25,322.97 139.43,322.88 139.61,322.79 139.8,322.7 139.98,322.6 140.16,322.51 140.34,322.42 140.52,322.33 140.71,322.24 140.89,322.15 141.07,322.06 141.25,321.97 141.44,321.88 141.62,321.79 141.8,321.7 141.98,321.61 142.16,321.52 142.35,321.43 142.53,321.34 142.71,321.25 142.89,321.16 143.07,321.07 143.26,320.98 143.44,320.88 143.62,320.79 143.8,320.7 143.99,320.61 144.17,320.52 144.35,320.43 144.53,320.34 144.71,320.25 144.9,320.16 145.08,320.07 145.26,319.97 145.44,319.88 145.62,319.79 145.81,319.7 145.99,319.61 146.17,319.52 146.35,319.43 146.53,319.33 146.72,319.24 146.9,319.15 147.08,319.06 147.26,318.97 147.45,318.88 147.63,318.79 147.81,318.69 147.99,318.6 148.17,318.51 148.36,318.42 148.54,318.33 148.72,318.24 148.9,318.14 149.08,318.05 149.27,317.96 149.45,317.87 149.63,317.78 149.81,317.68 150,317.59 150.18,317.5 150.36,317.41 150.54,317.32 150.72,317.22 150.91,317.13 151.09,317.04 151.27,316.95 151.45,316.85 151.63,316.76 151.82,316.67 152,316.58 152.18,316.49 152.36,316.39 152.55,316.3 152.73,316.21 152.91,316.12 153.09,316.02 153.27,315.93 153.46,315.84 153.64,315.74 153.82,315.65 154,315.56 154.18,315.47 154.37,315.37 154.55,315.28 154.73,315.19 154.91,315.1 155.09,315 155.28,314.91 155.46,314.82 155.64,314.72 155.82,314.63 156.01,314.54 156.19,314.44 156.37,314.35 156.55,314.26 156.73,314.16 156.92,314.07 157.1,313.98 157.28,313.88 157.46,313.79 157.64,313.7 157.83,313.6 158.01,313.51 158.19,313.42 158.37,313.32 158.56,313.23 158.74,313.14 158.92,313.04 159.1,312.95 159.28,312.86 159.47,312.76 159.65,312.67 159.83,312.57 160.01,312.48 160.19,312.39 160.38,312.29 160.56,312.2 160.74,312.11 160.92,312.01 161.1,311.92 161.29,311.82 161.47,311.73 161.65,311.64 161.83,311.54 162.02,311.45 162.2,311.35 162.38,311.26 162.56,311.16 162.74,311.07 162.93,310.98 163.11,310.88 163.29,310.79 163.47,310.69 163.65,310.6 163.84,310.5 164.02,310.41 164.2,310.31 164.38,310.22 164.57,310.13 164.75,310.03 164.93,309.94 165.11,309.84 165.29,309.75 165.48,309.65 165.66,309.56 165.84,309.46 166.02,309.37 166.2,309.27 166.39,309.18 166.57,309.08 166.75,308.99 166.93,308.89 167.12,308.8 167.3,308.7 167.48,308.61 167.66,308.51 167.84,308.42 168.03,308.32 168.21,308.23 168.39,308.13 168.57,308.04 168.75,307.94 168.94,307.84 169.12,307.75 169.3,307.65 169.48,307.56 169.66,307.46 169.85,307.37 170.03,307.27 170.21,307.18 170.39,307.08 170.58,306.98 170.76,306.89 170.94,306.79 171.12,306.7 171.3,306.6 171.49,306.51 171.67,306.41 171.85,306.31 172.03,306.22 172.21,306.12 172.4,306.03 172.58,305.93 172.76,305.83 172.94,305.74 173.13,305.64 173.31,305.55 173.49,305.45 173.67,305.35 173.85,305.26 174.04,305.16 174.22,305.06 174.4,304.97" fill="none" stroke="#48a2b0" stroke-width="1.2" stroke-linejoin="round" stroke-linecap="round" />
<polyline points="28.7,371.7 28.88,371.62 29.06,371.53 29.25,371.44 29.43,371.35 29.61,371.26 29.79,371.18 29.97,371.1 30.16,371.03 30.34,370.97 30.52,370.91 30.7,370.86 30.89,370.81 31.07,370.76 31.25,370.71 31.43,370.64 31.61,370.56 31.8,370.46 31.98,370.35 32.16,370.23 32.34,370.09 32.52,369.95 32.71,369.81 32.89,369.67 33.07,369.55 33.25,369.44 33.44,369.36 33.62,369.3 33.8,369.27 33.98,369.25 34.16,369.24 34.35,369.24 34.53,369.24 34.71,369.22 34.89,369.19 35.07,369.12 35.26,369.03 35.44,368.9 35.62,368.75 35.8,368.56 35.98,368.37 36.17,368.17 36.35,367.97 36.53,367.81 36.71,367.66 36.9,367.56 37.08,367.48 37.26,367.44 37.44,367.43 37.62,367.44 37.81,367.46 37.99,367.48 38.17,367.49 38.35,367.48 38.53,367.44 38.72,367.36 38.9,367.25 39.08,367.11 39.26,366.93 39.45,366.74 39.63,366.53 39.81,366.33 39.99,366.13 40.17,365.95 40.36,365.81 40.54,365.69 40.72,365.62 40.9,365.57 41.08,365.56 41.27,365.56 41.45,365.58 41.63,365.59 41.81,365.59 42,365.58 42.18,365.53 42.36,365.45 42.54,365.33 42.72,365.18 42.91,365 43.09,364.8 43.27,364.59 43.45,364.38 43.63,364.18 43.82,364 44,363.85 44.18,363.73 44.36,363.65 44.54,363.6 44.73,363.58 44.91,363.58 45.09,363.59 45.27,363.6 45.46,363.59 45.64,363.57 45.82,363.52 46,363.43 46.18,363.31 46.37,363.16 46.55,362.98 46.73,362.77 46.91,362.55 47.09,362.34 47.28,362.13 47.46,361.95 47.64,361.79 47.82,361.67 48.01,361.58 48.19,361.53 48.37,361.5 48.55,361.49 48.73,361.5 48.92,361.5 49.1,361.5 49.28,361.47 49.46,361.42 49.64,361.33 49.83,361.2 50.01,361.04 50.19,360.85 50.37,360.64 50.56,360.42 50.74,360.2 50.92,359.99 51.1,359.8 51.28,359.64 51.47,359.51 51.65,359.42 51.83,359.36 52.01,359.33 52.19,359.32 52.38,359.32 52.56,359.32 52.74,359.31 52.92,359.28 53.1,359.22 53.29,359.12 53.47,358.99 53.65,358.83 53.83,358.64 54.02,358.42 54.2,358.2 54.38,357.97 54.56,357.76 54.74,357.57 54.93,357.4 55.11,357.27 55.29,357.17 55.47,357.11 55.65,357.07 55.84,357.06 56.02,357.06 56.2,357.05 56.38,357.04 56.57,357 56.75,356.94 56.93,356.84 57.11,356.71 57.29,356.54 57.48,356.34 57.66,356.12 57.84,355.89 58.02,355.66 58.2,355.45 58.39,355.25 58.57,355.08 58.75,354.94 58.93,354.84 59.11,354.78 59.3,354.74 59.48,354.72 59.66,354.71 59.84,354.7 60.03,354.68 60.21,354.65 60.39,354.58 60.57,354.47 60.75,354.34 60.94,354.16 61.12,353.96 61.3,353.74 61.48,353.51 61.66,353.28 61.85,353.05 62.03,352.85 62.21,352.68 62.39,352.54 62.58,352.44 62.76,352.36 62.94,352.32 63.12,352.3 63.3,352.29 63.49,352.28 63.67,352.26 63.85,352.21 64.03,352.14 64.21,352.03 64.4,351.89 64.58,351.72 64.76,351.51 64.94,351.29 65.12,351.05 65.31,350.81 65.49,350.59 65.67,350.38 65.85,350.21 66.04,350.06 66.22,349.96 66.4,349.88 66.58,349.84 66.76,349.81 66.95,349.8 67.13,349.78 67.31,349.76 67.49,349.71 67.67,349.63 67.86,349.52 68.04,349.38 68.22,349.2 68.4,348.99 68.59,348.76 68.77,348.53 68.95,348.29 69.13,348.06 69.31,347.85 69.5,347.67 69.68,347.52 69.86,347.41 70.04,347.33 70.22,347.28 70.41,347.26 70.59,347.24 70.77,347.22 70.95,347.19 71.14,347.14 71.32,347.06 71.5,346.95 71.68,346.8 71.86,346.62 72.05,346.41 72.23,346.18 72.41,345.94 72.59,345.69 72.77,345.46 72.96,345.25 73.14,345.07 73.32,344.92 73.5,344.8 73.68,344.72 73.87,344.67 74.05,344.64 74.23,344.62 74.41,344.6 74.6,344.57 74.78,344.51 74.96,344.43 75.14,344.32 75.32,344.17 75.51,343.98 75.69,343.77 75.87,343.53 76.05,343.29 76.23,343.04 76.42,342.81 76.6,342.59 76.78,342.41 76.96,342.26 77.15,342.14 77.33,342.06 77.51,342 77.69,341.97 77.87,341.95 78.06,341.92 78.24,341.89 78.42,341.83 78.6,341.75 78.78,341.63 78.97,341.48 79.15,341.29 79.33,341.07 79.51,340.84 79.7,340.59 79.88,340.34 80.06,340.1 80.24,339.89 80.42,339.7 80.61,339.54 80.79,339.43 80.97,339.34 81.15,339.28 81.33,339.25 81.52,339.22 81.7,339.2 81.88,339.16 82.06,339.1 82.24,339.01 82.43,338.89 82.61,338.74 82.79,338.55 82.97,338.33 83.16,338.09 83.34,337.84 83.52,337.59 83.7,337.35 83.88,337.13 84.07,336.94 84.25,336.79 84.43,336.66 84.61,336.58 84.79,336.52 84.98,336.48 85.16,336.45 85.34,336.42 85.52,336.39 85.71,336.33 85.89,336.24 86.07,336.11 86.25,335.96 86.43,335.77 86.62,335.55 86.8,335.3 86.98,335.05 87.16,334.8 87.34,334.56 87.53,334.34 87.71,334.15 87.89,333.99 88.07,333.86 88.25,333.77 88.44,333.71 88.62,333.67 88.8,333.64 88.98,333.61 89.17,333.57 89.35,333.51 89.53,333.42 89.71,333.3 89.89,333.14 90.08,332.94 90.26,332.72 90.44,332.48 90.62,332.23 90.8,331.97 90.99,331.73 91.17,331.51 91.35,331.31 91.53,331.15 91.72,331.03 91.9,330.94 92.08,330.87 92.26,330.83 92.44,330.8 92.63,330.77 92.81,330.73 92.99,330.66 93.17,330.57 93.35,330.45 93.54,330.28 93.72,330.09 93.9,329.87 94.08,329.62 94.27,329.37 94.45,329.11 94.63,328.87 94.81,328.64 94.99,328.45 95.18,328.29 95.36,328.16 95.54,328.07 95.72,328 95.9,327.96 96.09,327.93 96.27,327.89 96.45,327.85 96.63,327.79 96.81,327.69 97,327.57 97.18,327.4 97.36,327.21 97.54,326.98 97.73,326.74 97.91,326.48 98.09,326.22 98.27,325.98 98.45,325.75 98.64,325.56 98.82,325.39 99,325.27 99.18,325.17 99.36,325.11 99.55,325.06 99.73,325.03 99.91,325 100.09,324.95 100.28,324.89 100.46,324.79 100.64,324.66 100.82,324.5 101,324.3 101.19,324.08 101.37,323.83 101.55,323.57 101.73,323.32 101.91,323.07 102.1,322.84 102.28,322.65 102.46,322.48 102.64,322.36 102.82,322.26 103.01,322.19 103.19,322.15 103.37,322.11 103.55,322.08 103.74,322.04 103.92,321.97 104.1,321.87 104.28,321.75 104.46,321.58 104.65,321.38 104.83,321.16 105.01,320.91 105.19,320.65 105.37,320.39 105.56,320.15 105.74,319.92 105.92,319.72 106.1,319.56 106.29,319.43 106.47,319.33 106.65,319.27 106.83,319.22 107.01,319.19 107.2,319.15 107.38,319.1 107.56,319.04 107.74,318.94 107.92,318.81 108.11,318.65 108.29,318.45 108.47,318.22 108.65,317.98 108.84,317.72 109.02,317.46 109.2,317.21 109.38,316.98 109.56,316.79 109.75,316.62 109.93,316.49 110.11,316.4 110.29,316.33 110.47,316.28 110.66,316.25 110.84,316.21 111.02,316.17 111.2,316.1 111.38,316 111.57,315.87 111.75,315.71 111.93,315.51 112.11,315.28 112.3,315.04 112.48,314.78 112.66,314.52 112.84,314.27 113.02,314.04 113.21,313.84 113.39,313.68 113.57,313.55 113.75,313.46 113.93,313.39 114.12,313.34 114.3,313.31 114.48,313.27 114.66,313.23 114.85,313.16 115.03,313.06 115.21,312.93 115.39,312.77 115.57,312.57 115.76,312.34 115.94,312.1 116.12,311.84 116.3,311.58 116.48,311.33 116.67,311.1 116.85,310.9 117.03,310.74 117.21,310.61 117.39,310.52 117.58,310.45 117.76,310.4 117.94,310.37 118.12,310.33 118.31,310.29 118.49,310.22 118.67,310.12 118.85,310 119.03,309.83 119.22,309.63 119.4,309.41 119.58,309.16 119.76,308.9 119.94,308.64 120.13,308.39 120.31,308.17 120.49,307.97 120.67,307.81 120.86,307.68 121.04,307.58 121.22,307.52 121.4,307.47 121.58,307.44 121.77,307.4 121.95,307.36 122.13,307.29 122.31,307.19 122.49,307.07 122.68,306.9 122.86,306.7 123.04,306.48 123.22,306.23 123.41,305.97 123.59,305.72 123.77,305.47 123.95,305.24 124.13,305.05 124.32,304.88 124.5,304.75 124.68,304.66 124.86,304.59 125.04,304.55 125.23,304.52 125.41,304.48 125.59,304.44 125.77,304.37 125.95,304.28 126.14,304.15 126.32,303.99 126.5,303.79 126.68,303.57 126.87,303.32 127.05,303.06 127.23,302.81 127.41,302.56 127.59,302.33 127.78,302.14 127.96,301.98 128.14,301.85 128.32,301.75 128.5,301.69 128.69,301.65 128.87,301.61 129.05,301.58 129.23,301.54 129.42,301.47 129.6,301.38 129.78,301.25 129.96,301.09 130.14,300.9 130.33,300.67 130.51,300.43 130.69,300.17 130.87,299.91 131.05,299.67 131.24,299.45 131.42,299.25 131.6,299.09 131.78,298.96 131.96,298.87 132.15,298.81 132.33,298.77 132.51,298.73 132.69,298.7 132.88,298.66 133.06,298.6 133.24,298.51 133.42,298.38 133.6,298.22 133.79,298.03 133.97,297.8 134.15,297.56 134.33,297.3 134.51,297.05 134.7,296.81 134.88,296.58 135.06,296.39 135.24,296.23 135.43,296.11 135.61,296.02 135.79,295.95 135.97,295.91 136.15,295.88 136.34,295.85 136.52,295.81 136.7,295.75 136.88,295.66 137.06,295.54 137.25,295.38 137.43,295.18 137.61,294.96 137.79,294.72 137.98,294.47 138.16,294.22 138.34,293.97 138.52,293.75 138.7,293.56 138.89,293.4 139.07,293.28 139.25,293.19 139.43,293.13 139.61,293.09 139.8,293.06 139.98,293.04 140.16,293 140.34,292.94 140.52,292.85 140.71,292.73 140.89,292.57 141.07,292.38 141.25,292.16 141.44,291.92 141.62,291.67 141.8,291.42 141.98,291.18 142.16,290.96 142.35,290.77 142.53,290.61 142.71,290.49 142.89,290.41 143.07,290.35 143.26,290.31 143.44,290.28 143.62,290.26 143.8,290.22 143.99,290.16 144.17,290.08 144.35,289.96 144.53,289.8 144.71,289.61 144.9,289.4 145.08,289.16 145.26,288.91 145.44,288.66 145.62,288.42 145.81,288.21 145.99,288.02 146.17,287.86 146.35,287.75 146.53,287.66 146.72,287.61 146.9,287.57 147.08,287.55 147.26,287.52 147.45,287.49 147.63,287.43 147.81,287.35 147.99,287.23 148.17,287.08 148.36,286.89 148.54,286.68 148.72,286.44 148.9,286.2 149.08,285.95 149.27,285.72 149.45,285.5 149.63,285.32 149.81,285.16 150,285.05 150.18,284.97 150.36,284.91 150.54,284.88 150.72,284.86 150.91,284.84 151.09,284.81 151.27,284.75 151.45,284.67 151.63,284.56 151.82,284.41 152,284.22 152.18,284.01 152.36,283.78 152.55,283.53 152.73,283.29 152.91,283.06 153.09,282.85 153.27,282.66 153.46,282.52 153.64,282.4 153.82,282.32 154,282.27 154.18,282.24 154.37,282.22 154.55,282.21 154.73,282.18 154.91,282.13 155.09,282.05 155.28,281.94 155.46,281.79 155.64,281.61 155.82,281.4 156.01,281.17 156.19,280.93 156.37,280.69 156.55,280.46 156.73,280.25 156.92,280.07 157.1,279.93 157.28,279.82 157.46,279.74 157.64,279.69 157.83,279.67 158.01,279.65 158.19,279.63 158.37,279.61 158.56,279.56 158.74,279.49 158.92,279.38 159.1,279.23 159.28,279.06 159.47,278.85 159.65,278.62 159.83,278.39 160.01,278.15 160.19,277.92 160.38,277.72 160.56,277.54 160.74,277.4 160.92,277.29 161.1,277.22 161.29,277.17 161.47,277.15 161.65,277.14 161.83,277.13 162.02,277.1 162.2,277.06 162.38,276.99 162.56,276.88 162.74,276.74 162.93,276.57 163.11,276.37 163.29,276.14 163.47,275.91 163.65,275.68 163.84,275.45 164.02,275.25 164.2,275.08 164.38,274.94 164.57,274.84 164.75,274.77 164.93,274.73 165.11,274.71 165.29,274.7 165.48,274.69 165.66,274.67 165.84,274.63 166.02,274.56 166.2,274.46 166.39,274.32 166.57,274.15 166.75,273.95 166.93,273.73 167.12,273.5 167.3,273.27 167.48,273.06 167.66,272.86 167.84,272.69 168.03,272.55 168.21,272.45 168.39,272.39 168.57,272.35 168.75,272.34 168.94,272.33 169.12,272.33 169.3,272.31 169.48,272.28 169.66,272.21 169.85,272.11 170.03,271.98 170.21,271.81 170.39,271.62 170.58,271.4 170.76,271.18 170.94,270.95 171.12,270.74 171.3,270.54 171.49,270.38 171.67,270.25 171.85,270.15 172.03,270.09 172.21,270.06 172.4,270.05 172.58,270.04 172.76,270.04 172.94,270.03 173.13,270 173.31,269.94 173.49,269.85 173.67,269.72 173.85,269.56 174.04,269.37 174.22,269.15 174.4,268.93" fill="none" stroke="#d8303f" stroke-width="1.2" stroke-linejoin="round" stroke-linecap="round" />
<polyline points="28.7,371.7 28.88,371.6 29.06,371.5 29.25,371.39 29.43,371.29 29.61,371.18 29.79,371.07 29.97,370.96 30.16,370.85 30.34,370.74 30.52,370.63 30.7,370.52 30.89,370.41 31.07,370.29 31.25,370.18 31.43,370.06 31.61,369.94 31.8,369.82 31.98,369.7 32.16,369.58 32.34,369.46 32.52,369.33 32.71,369.21 32.89,369.09 33.07,368.96 33.25,368.83 33.44,368.7 33.62,368.57 33.8,368.44 33.98,368.31 34.16,368.18 34.35,368.04 34.53,367.91 34.71,367.77 34.89,367.63 35.07,367.5 35.26,367.36 35.44,367.22 35.62,367.08 35.8,366.93 35.98,366.79 36.17,366.64 36.35,366.5 36.53,366.35 36.71,366.2 36.9,366.06 37.08,365.91 37.26,365.75 37.44,365.6 37.62,365.45 37.81,365.29 37.99,365.14 38.17,364.98 38.35,364.83 38.53,364.67 38.72,364.51 38.9,364.35 39.08,364.18 39.26,364.02 39.45,363.86 39.63,363.69 39.81,363.53 39.99,363.36 40.17,363.19 40.36,363.02 40.54,362.85 40.72,362.68 40.9,362.51 41.08,362.33 41.27,362.16 41.45,361.98 41.63,361.81 41.81,361.63 42,361.45 42.18,361.27 42.36,361.09 42.54,360.91 42.72,360.72 42.91,360.54 43.09,360.36 43.27,360.17 43.45,359.98 43.63,359.79 43.82,359.6 44,359.41 44.18,359.22 44.36,359.03 44.54,358.83 44.73,358.64 44.91,358.44 45.09,358.25 45.27,358.05 45.46,357.85 45.64,357.65 45.82,357.45 46,357.25 46.18,357.04 46.37,356.84 46.55,356.63 46.73,356.43 46.91,356.22 47.09,356.01 47.28,355.8 47.46,355.59 47.64,355.38 47.82,355.16 48.01,354.95 48.19,354.73 48.37,354.52 48.55,354.3 48.73,354.08 48.92,353.86 49.1,353.64 49.28,353.42 49.46,353.2 49.64,352.97 49.83,352.75 50.01,352.52 50.19,352.3 50.37,352.07 50.56,351.84 50.74,351.61 50.92,351.38 51.1,351.15 51.28,350.91 51.47,350.68 51.65,350.44 51.83,350.21 52.01,349.97 52.19,349.73 52.38,349.49 52.56,349.25 52.74,349.01 52.92,348.76 53.1,348.52 53.29,348.28 53.47,348.03 53.65,347.78 53.83,347.53 54.02,347.28 54.2,347.03 54.38,346.78 54.56,346.53 54.74,346.28 54.93,346.02 55.11,345.77 55.29,345.51 55.47,345.25 55.65,344.99 55.84,344.73 56.02,344.47 56.2,344.21 56.38,343.95 56.57,343.68 56.75,343.42 56.93,343.15 57.11,342.88 57.29,342.61 57.48,342.34 57.66,342.07 57.84,341.8 58.02,341.53 58.2,341.25 58.39,340.98 58.57,340.7 58.75,340.43 58.93,340.15 59.11,339.87 59.3,339.59 59.48,339.31 59.66,339.02 59.84,338.74 60.03,338.46 60.21,338.17 60.39,337.88 60.57,337.6 60.75,337.31 60.94,337.02 61.12,336.73 61.3,336.43 61.48,336.14 61.66,335.85 61.85,335.55 62.03,335.25 62.21,334.96 62.39,334.66 62.58,334.36 62.76,334.06 62.94,333.76 63.12,333.45 63.3,333.15 63.49,332.85 63.67,332.54 63.85,332.23 64.03,331.92 64.21,331.61 64.4,331.3 64.58,330.99 64.76,330.68 64.94,330.37 65.12,330.05 65.31,329.74 65.49,329.42 65.67,329.1 65.85,328.78 66.04,328.46 66.22,328.14 66.4,327.82 66.58,327.5 66.76,327.17 66.95,326.85 67.13,326.52 67.31,326.2 67.49,325.87 67.67,325.54 67.86,325.21 68.04,324.87 68.22,324.54 68.4,324.21 68.59,323.87 68.77,323.54 68.95,323.2 69.13,322.86 69.31,322.52 69.5,322.18 69.68,321.84 69.86,321.5 70.04,321.16 70.22,320.81 70.41,320.47 70.59,320.12 70.77,319.77 70.95,319.42 71.14,319.07 71.32,318.72 71.5,318.37 71.68,318.02 71.86,317.66 72.05,317.31 72.23,316.95 72.41,316.6 72.59,316.24 72.77,315.88 72.96,315.52 73.14,315.16 73.32,314.79 73.5,314.43 73.68,314.06 73.87,313.7 74.05,313.33 74.23,312.96 74.41,312.6 74.6,312.22 74.78,311.85 74.96,311.48 75.14,311.11 75.32,310.73 75.51,310.36 75.69,309.98 75.87,309.6 76.05,309.23 76.23,308.85 76.42,308.47 76.6,308.08 76.78,307.7 76.96,307.32 77.15,306.93 77.33,306.55 77.51,306.16 77.69,305.77 77.87,305.38 78.06,304.99 78.24,304.6 78.42,304.21 78.6,303.81 78.78,303.42 78.97,303.02 79.15,302.63 79.33,302.23 79.51,301.83 79.7,301.43 79.88,301.03 80.06,300.63 80.24,300.22 80.42,299.82 80.61,299.41 80.79,299.01 80.97,298.6 81.15,298.19 81.33,297.78 81.52,297.37 81.7,296.96 81.88,296.55 82.06,296.13 82.24,295.72 82.43,295.3 82.61,294.88 82.79,294.47 82.97,294.05 83.16,293.63 83.34,293.2 83.52,292.78 83.7,292.36 83.88,291.93 84.07,291.51 84.25,291.08 84.43,290.65 84.61,290.23 84.79,289.8 84.98,289.36 85.16,288.93 85.34,288.5 85.52,288.06 85.71,287.63 85.89,287.19 86.07,286.76 86.25,286.32 86.43,285.88 86.62,285.44 86.8,285 86.98,284.55 87.16,284.11 87.34,283.66 87.53,283.22 87.71,282.77 87.89,282.32 88.07,281.87 88.25,281.42 88.44,280.97 88.62,280.52 88.8,280.07 88.98,279.61 89.17,279.16 89.35,278.7 89.53,278.24 89.71,277.78 89.89,277.32 90.08,276.86 90.26,276.4 90.44,275.94 90.62,275.47 90.8,275.01 90.99,274.54 91.17,274.08 91.35,273.61 91.53,273.14 91.72,272.67 91.9,272.2 92.08,271.72 92.26,271.25 92.44,270.77 92.63,270.3 92.81,269.82 92.99,269.34 93.17,268.86 93.35,268.38 93.54,267.9 93.72,267.42 93.9,266.94 94.08,266.45 94.27,265.97 94.45,265.48 94.63,264.99 94.81,264.5 94.99,264.02 95.18,263.52 95.36,263.03 95.54,262.54 95.72,262.05 95.9,261.55 96.09,261.05 96.27,260.56 96.45,260.06 96.63,259.56 96.81,259.06 97,258.56 97.18,258.05 97.36,257.55 97.54,257.05 97.73,256.54 97.91,256.03 98.09,255.53 98.27,255.02 98.45,254.51 98.64,254 98.82,253.48 99,252.97 99.18,252.46 99.36,251.94 99.55,251.42 99.73,250.91 99.91,250.39 100.09,249.87 100.28,249.35 100.46,248.83 100.64,248.3 100.82,247.78 101,247.25 101.19,246.73 101.37,246.2 101.55,245.67 101.73,245.14 101.91,244.61 102.1,244.08 102.28,243.55 102.46,243.02 102.64,242.48 102.82,241.95 103.01,241.41 103.19,240.87 103.37,240.33 103.55,239.79 103.74,239.25 103.92,238.71 104.1,238.17 104.28,237.62 104.46,237.08 104.65,236.53 104.83,235.98 105.01,235.43 105.19,234.88 105.37,234.33 105.56,233.78 105.74,233.23 105.92,232.68 106.1,232.12 106.29,231.56 106.47,231.01 106.65,230.45 106.83,229.89 107.01,229.33 107.2,228.77 107.38,228.21 107.56,227.64 107.74,227.08 107.92,226.51 108.11,225.95 108.29,225.38 108.47,224.81 108.65,224.24 108.84,223.67 109.02,223.1 109.2,222.52 109.38,221.95 109.56,221.37 109.75,220.8 109.93,220.22 110.11,219.64 110.29,219.06 110.47,218.48 110.66,217.9 110.84,217.32 111.02,216.73 111.2,216.15 111.38,215.56 111.57,214.98 111.75,214.39 111.93,213.8 112.11,213.21 112.3,212.62 112.48,212.03 112.66,211.43 112.84,210.84 113.02,210.24 113.21,209.65 113.39,209.05 113.57,208.45 113.75,207.85 113.93,207.25 114.12,206.65 114.3,206.04 114.48,205.44 114.66,204.84 114.85,204.23 115.03,203.62 115.21,203.01 115.39,202.4 115.57,201.79 115.76,201.18 115.94,200.57 116.12,199.96 116.3,199.34 116.48,198.73 116.67,198.11 116.85,197.49 117.03,196.87 117.21,196.25 117.39,195.63 117.58,195.01 117.76,194.38 117.94,193.76 118.12,193.14 118.31,192.51 118.49,191.88 118.67,191.25 118.85,190.62 119.03,189.99 119.22,189.36 119.4,188.73 119.58,188.09 119.76,187.46 119.94,186.82 120.13,186.19 120.31,185.55 120.49,184.91 120.67,184.27 120.86,183.63 121.04,182.98 121.22,182.34 121.4,181.7 121.58,181.05 121.77,180.4 121.95,179.75 122.13,179.11 122.31,178.46 122.49,177.8 122.68,177.15 122.86,176.5 123.04,175.85 123.22,175.19 123.41,174.53 123.59,173.88 123.77,173.22 123.95,172.56 124.13,171.9 124.32,171.24 124.5,170.57 124.68,169.91 124.86,169.24 125.04,168.58 125.23,167.91 125.41,167.24 125.59,166.57 125.77,165.9 125.95,165.23 126.14,164.56 126.32,163.89 126.5,163.21 126.68,162.54 126.87,161.86 127.05,161.18 127.23,160.5 127.41,159.82 127.59,159.14 127.78,158.46 127.96,157.78 128.14,157.09 128.32,156.41 128.5,155.72 128.69,155.03 128.87,154.34 129.05,153.66 129.23,152.96 129.42,152.27 129.6,151.58 129.78,150.89 129.96,150.19 130.14,149.5 130.33,148.8 130.51,148.1 130.69,147.4 130.87,146.7 131.05,146 131.24,145.3 131.42,144.59 131.6,143.89 131.78,143.18 131.96,142.48 132.15,141.77 132.33,141.06 132.51,140.35 132.69,139.64 132.88,138.93 133.06,138.22 133.24,137.5 133.42,136.79 133.6,136.07 133.79,135.35 133.97,134.63 134.15,133.92 134.33,133.19 134.51,132.47 134.7,131.75 134.88,131.03 135.06,130.3 135.24,129.58 135.43,128.85 135.61,128.12 135.79,127.39 135.97,126.66 136.15,125.93 136.34,125.2 136.52,124.47 136.7,123.73 136.88,123 137.06,122.26 137.25,121.52 137.43,120.78 137.61,120.04 137.79,119.3 137.98,118.56 138.16,117.82 138.34,117.07 138.52,116.33 138.7,115.58 138.89,114.84 139.07,114.09 139.25,113.34 139.43,112.59 139.61,111.84 139.8,111.08 139.98,110.33 140.16,109.57 140.34,108.82 140.52,108.06 140.71,107.3 140.89,106.55 141.07,105.79 141.25,105.02 141.44,104.26 141.62,103.5 141.8,102.73 141.98,101.97 142.16,101.2 142.35,100.44 142.53,99.67 142.71,98.9 142.89,98.13 143.07,97.35 143.26,96.58 143.44,95.81 143.62,95.03 143.8,94.26 143.99,93.48 144.17,92.7 144.35,91.92 144.53,91.14 144.71,90.36 144.9,89.58 145.08,88.79 145.26,88.01 145.44,87.22 145.62,86.44 145.81,85.65 145.99,84.86 146.17,84.07 146.35,83.28 146.53,82.49 146.72,81.7 146.9,80.9 147.08,80.11 147.26,79.31 147.45,78.51 147.63,77.71 147.81,76.91 147.99,76.11 148.17,75.31 148.36,74.51 148.54,73.7 148.72,72.9 148.9,72.09 149.08,71.29 149.27,70.48 149.45,69.67 149.63,68.86 149.81,68.05 150,67.24 150.18,66.42 150.36,65.61 150.54,64.79 150.72,63.98 150.91,63.16 151.09,62.34 151.27,61.52 151.45,60.7 151.63,59.88 151.82,59.05 152,58.23 152.18,57.4 152.36,56.58 152.55,55.75 152.73,54.92 152.91,54.09 153.09,53.26 153.27,52.43 153.46,51.6 153.64,50.76 153.82,49.93 154,49.09 154.18,48.26 154.37,47.42 154.55,46.58 154.73,45.74 154.91,44.9 155.09,44.06 155.28,43.21 155.46,42.37 155.64,41.52 155.82,40.68 156.01,39.83 156.19,38.98 156.37,38.13 156.55,37.28 156.73,36.43 156.92,35.57 157.1,34.72 157.28,33.87 157.46,33.01 157.64,32.15 157.83,31.29 158.01,30.43 158.19,29.57 158.37,28.71 158.56,27.85 158.74,26.99 158.92,26.12 159.1,25.26 159.28,24.39 159.47,23.52 159.65,22.65 159.83,21.78 160.01,20.91 160.19,20.04 160.38,19.16 160.56,18.29 160.74,17.42 160.92,16.54 161.1,15.66 161.29,14.78 161.47,13.9 161.65,13.02 161.83,12.14 162.02,11.26 162.2,10.37 162.38,9.49 162.56,8.6 162.74,7.72 162.93,6.83 163.11,5.94 163.29,5.05 163.47,4.16 163.65,3.26 163.84,2.37 164.02,1.48 164.2,0.58 164.38,-0.32 164.57,-1.21 164.75,-2.11 164.93,-3.01 165.11,-3.91 165.29,-4.82 165.48,-5.72 165.66,-6.62 165.84,-7.53 166.02,-8.44 166.2,-9.34 166.39,-10.25 166.57,-11.16 166.75,-12.07 166.93,-12.98 167.12,-13.9 167.3,-14.81 167.48,-15.73 167.66,-16.64 167.84,-17.56 168.03,-18.48 168.21,-19.4 168.39,-20.32 168.57,-21.24 168.75,-22.16 168.94,-23.08 169.12,-24.01 169.3,-24.93 169.48,-25.86 169.66,-26.79 169.85,-27.72 170.03,-28.65 170.21,-29.58 170.39,-30.51 170.58,-31.44 170.76,-32.38 170.94,-33.31 171.12,-34.25 171.3,-35.19 171.49,-36.12 171.67,-37.06 171.85,-38 172.03,-38.95 172.21,-39.89 172.4,-40.83 172.58,-41.78 172.76,-42.72 172.94,-43.67 173.13,-44.62 173.31,-45.57 173.49,-46.52 173.67,-47.47 173.85,-48.42 174.04,-49.37 174.22,-50.33 174.4,-51.28" fill="none" stroke="#f4c04a" stroke-width="1.2" stroke-linejoin="round" stroke-linecap="round" />
</g>
<rect x="28.7" y="217.9" width="145.7" height="154" fill="none" stroke="#111" stroke-width="1.2" />
<text x="28.7" y="384.16" font-size="10.7" text-anchor="middle" fill="#111" stroke="#111" stroke-width="0.16" >0</text>
<line x1="50.56" y1="371.9" x2="50.56" y2="369.6" stroke="#111" stroke-width="1.0" />
<text x="50.56" y="384.16" font-size="10.7" text-anchor="middle" fill="#111" stroke="#111" stroke-width="0.16" >3</text>
<line x1="72.41" y1="371.9" x2="72.41" y2="369.6" stroke="#111" stroke-width="1.0" />
<text x="72.41" y="384.16" font-size="10.7" text-anchor="middle" fill="#111" stroke="#111" stroke-width="0.16" >6</text>
<line x1="94.27" y1="371.9" x2="94.27" y2="369.6" stroke="#111" stroke-width="1.0" />
<text x="94.27" y="384.16" font-size="10.7" text-anchor="middle" fill="#111" stroke="#111" stroke-width="0.16" >9</text>
<line x1="116.12" y1="371.9" x2="116.12" y2="369.6" stroke="#111" stroke-width="1.0" />
<text x="116.12" y="384.16" font-size="10.7" text-anchor="middle" fill="#111" stroke="#111" stroke-width="0.16" >12</text>
<line x1="137.98" y1="371.9" x2="137.98" y2="369.6" stroke="#111" stroke-width="1.0" />
<text x="137.98" y="384.16" font-size="10.7" text-anchor="middle" fill="#111" stroke="#111" stroke-width="0.16" >15</text>
<line x1="159.83" y1="371.9" x2="159.83" y2="369.6" stroke="#111" stroke-width="1.0" />
<text x="159.83" y="384.16" font-size="10.7" text-anchor="middle" fill="#111" stroke="#111" stroke-width="0.16" >18</text>
<text x="25.7" y="375.53" font-size="10.7" text-anchor="end" fill="#111" stroke="#111" stroke-width="0.16" >0</text>
<line x1="28.7" y1="331.5" x2="31" y2="331.5" stroke="#111" stroke-width="1.0" />
<text x="25.7" y="335.33" font-size="10.7" text-anchor="end" fill="#111" stroke="#111" stroke-width="0.16" >10</text>
<line x1="28.7" y1="291.3" x2="31" y2="291.3" stroke="#111" stroke-width="1.0" />
<text x="25.7" y="295.13" font-size="10.7" text-anchor="end" fill="#111" stroke="#111" stroke-width="0.16" >20</text>
<line x1="28.7" y1="251.1" x2="31" y2="251.1" stroke="#111" stroke-width="1.0" />
<text x="25.7" y="254.93" font-size="10.7" text-anchor="end" fill="#111" stroke="#111" stroke-width="0.16" >30</text>
<line x1="34" y1="225.8" x2="51.6" y2="225.8" stroke="#d8303f" stroke-width="1.5" />
<text x="56.4" y="229.4" font-size="9.8" text-anchor="start" fill="#111" stroke="#111" stroke-width="0.16" >2Hz</text>
<line x1="34" y1="238" x2="51.6" y2="238" stroke="#f4c04a" stroke-width="1.5" />
<text x="56.4" y="241.6" font-size="9.8" text-anchor="start" fill="#111" stroke="#111" stroke-width="0.16" >3Hz</text>
<line x1="34" y1="250.2" x2="51.6" y2="250.2" stroke="#48a2b0" stroke-width="1.5" />
<text x="56.4" y="253.8" font-size="9.8" text-anchor="start" fill="#111" stroke="#111" stroke-width="0.16" >4Hz</text>
<rect x="72.5" y="297.4" width="11.4" height="12.8" fill="none" stroke="#2b4555" stroke-width="1.5" />
<rect x="98.5" y="314.3" width="11.4" height="12.8" fill="none" stroke="#2b4555" stroke-width="1.5" />
<rect x="120.3" y="323.3" width="11.4" height="12.8" fill="none" stroke="#2b4555" stroke-width="1.5" />
<text x="101.8" y="395" font-size="11" text-anchor="middle" fill="#111" stroke="#111" stroke-width="0.16" >Time (s)</text>
<text transform="translate(10.6,295.3) rotate(-90)" x="0" y="0" font-size="11.25" text-anchor="middle" fill="#111" stroke="#111" stroke-width="0.16">Distance traveled (mm)</text>
<text x="1.5" y="215.2" font-size="17.5" text-anchor="start" fill="#111" stroke="#111" stroke-width="0.16" >d</text>
<rect x="178.1" y="218.6" width="52.3" height="153.4" fill="none" stroke="#111" stroke-width="1.2" />
<rect x="233.3" y="218.6" width="52.2" height="153.4" fill="none" stroke="#111" stroke-width="1.2" />
<rect x="288.4" y="218.6" width="52.2" height="153.4" fill="none" stroke="#111" stroke-width="1.2" />
<line x1="181.7" y1="225.4" x2="199.2" y2="225.4" stroke="#d8303f" stroke-width="1.5" />
<text x="204.5" y="229.2" font-size="9.8" text-anchor="start" fill="#111" stroke="#111" stroke-width="0.16" >2Hz</text>
<text x="204.25" y="383.4" font-size="9.95" text-anchor="middle" fill="#111" stroke="#111" stroke-width="0.16" >1 second</text>
<line x1="236.9" y1="225.4" x2="254.4" y2="225.4" stroke="#f4c04a" stroke-width="1.5" />
<text x="259.7" y="229.2" font-size="9.8" text-anchor="start" fill="#111" stroke="#111" stroke-width="0.16" >3Hz</text>
<text x="259.4" y="383.4" font-size="9.95" text-anchor="middle" fill="#111" stroke="#111" stroke-width="0.16" >1 second</text>
<line x1="292" y1="225.4" x2="309.5" y2="225.4" stroke="#48a2b0" stroke-width="1.5" />
<text x="314.8" y="229.2" font-size="9.8" text-anchor="start" fill="#111" stroke="#111" stroke-width="0.16" >4Hz</text>
<text x="314.5" y="383.4" font-size="9.95" text-anchor="middle" fill="#111" stroke="#111" stroke-width="0.16" >1 second</text>
<path d="M178.6,331.5 C179.07,330.7 180.4,328.92 181.4,326.7 C182.4,324.48 183.53,321.05 184.6,318.2 C185.67,315.35 186.73,312.1 187.8,309.6 C188.87,307.1 189.93,305.05 191,303.2 C192.07,301.35 193.13,299.57 194.2,298.5 C195.27,297.43 196.33,297.2 197.4,296.8 C198.47,296.4 199.7,296.57 200.6,296.1 C201.5,295.63 201.55,295.32 202.8,294 C204.05,292.68 206.68,290.07 208.1,288.2 C209.52,286.33 210.23,284.77 211.3,282.8 C212.37,280.83 213.42,278.53 214.5,276.4 C215.58,274.27 216.72,271.6 217.8,270 C218.88,268.4 219.93,267.63 221,266.8 C222.07,265.97 222.73,265.72 224.2,265 C225.67,264.28 228.87,262.92 229.8,262.5" fill="none" stroke="#d8303f" stroke-width="1.2" stroke-linecap="round"/>
<path d="M233.9,371.4 C234.48,369.62 236.17,364.63 237.4,360.7 C238.63,356.77 240.05,352.08 241.3,347.8 C242.55,343.52 243.93,337.67 244.9,335 C245.87,332.33 246.2,332.7 247.1,331.8 C248,330.9 249.42,330.68 250.3,329.6 C251.18,328.52 251.52,328.33 252.4,325.3 C253.28,322.27 254.53,315.85 255.6,311.4 C256.67,306.95 257.97,302.35 258.8,298.6 C259.63,294.85 259.95,291.42 260.6,288.9 C261.25,286.38 261.92,284.93 262.7,283.5 C263.48,282.07 264.33,281.37 265.3,280.3 C266.27,279.23 267.62,278.35 268.5,277.1 C269.38,275.85 269.78,275.48 270.6,272.8 C271.42,270.12 272.5,265.28 273.4,261 C274.3,256.72 275.15,251.2 276,247.1 C276.85,243 277.62,239.62 278.5,236.4 C279.38,233.18 280.23,230.45 281.3,227.8 C282.37,225.15 284.3,221.72 284.9,220.5" fill="none" stroke="#f4c04a" stroke-width="1.2" stroke-linecap="round"/>
<path d="M288.9,357.5 C289.32,357.13 290.45,356.38 291.4,355.3 C292.35,354.22 293.53,352.32 294.6,351 C295.67,349.68 296.73,348.18 297.8,347.4 C298.87,346.62 299.93,346.52 301,346.3 C302.07,346.08 303.13,346.63 304.2,346.1 C305.27,345.57 306.33,344.32 307.4,343.1 C308.47,341.88 309.53,339.98 310.6,338.8 C311.67,337.62 312.73,336.57 313.8,336 C314.87,335.43 315.92,335.93 317,335.4 C318.08,334.87 319.22,334.12 320.3,332.8 C321.38,331.48 322.43,329 323.5,327.5 C324.57,326 325.63,324.52 326.7,323.8 C327.77,323.08 328.83,323.67 329.9,323.2 C330.97,322.73 332.03,322.07 333.1,321 C334.17,319.93 335.15,318.12 336.3,316.8 C337.45,315.48 339.38,313.72 340,313.1" fill="none" stroke="#48a2b0" stroke-width="1.2" stroke-linecap="round"/>
<text x="195.8" y="318.2" font-size="9.8" text-anchor="middle" fill="#111" stroke="#111" stroke-width="0.16" >1</text>
<text x="222" y="289.7" font-size="9.8" text-anchor="middle" fill="#111" stroke="#111" stroke-width="0.16" >2</text>
<text x="248.1" y="352.5" font-size="9.8" text-anchor="middle" fill="#111" stroke="#111" stroke-width="0.16" >1</text>
<text x="263.4" y="308.2" font-size="9.8" text-anchor="middle" fill="#111" stroke="#111" stroke-width="0.16" >2</text>
<text x="280.1" y="263.2" font-size="9.8" text-anchor="middle" fill="#111" stroke="#111" stroke-width="0.16" >3</text>
<text x="296.2" y="365" font-size="9.8" text-anchor="middle" fill="#111" stroke="#111" stroke-width="0.16" >1</text>
<text x="308.8" y="354.2" font-size="9.8" text-anchor="middle" fill="#111" stroke="#111" stroke-width="0.16" >2</text>
<text x="321.7" y="344" font-size="9.8" text-anchor="middle" fill="#111" stroke="#111" stroke-width="0.16" >3</text>
<text x="334.5" y="333.5" font-size="9.8" text-anchor="middle" fill="#111" stroke="#111" stroke-width="0.16" >4</text>
<rect x="390.9" y="353.08" width="14" height="18.92" fill="#ffffff" stroke="#111" stroke-width="1.2" />
<rect x="406.3" y="324.27" width="14" height="47.73" fill="#ffffff" stroke="#111" stroke-width="1.2" />
<rect x="421.6" y="350.71" width="14" height="21.29" fill="#ffffff" stroke="#111" stroke-width="1.2" />
<rect x="448.7" y="340.61" width="14" height="31.39" fill="#ffffff" stroke="#111" stroke-width="1.2" />
<rect x="464.4" y="254.61" width="14" height="117.39" fill="#ffffff" stroke="#111" stroke-width="1.2" />
<rect x="480.1" y="338.68" width="14" height="33.32" fill="#ffffff" stroke="#111" stroke-width="1.2" />
<rect x="507.4" y="364.26" width="14" height="7.74" fill="#ffffff" stroke="#111" stroke-width="1.2" />
<rect x="522.5" y="335.24" width="14" height="36.76" fill="#ffffff" stroke="#111" stroke-width="1.2" />
<rect x="538.3" y="359.1" width="14" height="12.9" fill="#ffffff" stroke="#111" stroke-width="1.2" />
<line x1="397.9" y1="346.2" x2="397.9" y2="360.61" stroke="#111" stroke-width="1.2" />
<line x1="395.9" y1="346.2" x2="399.9" y2="346.2" stroke="#111" stroke-width="1.2" />
<line x1="395.9" y1="360.61" x2="399.9" y2="360.61" stroke="#111" stroke-width="1.2" />
<circle cx="397.6" cy="344" r="2.4" fill="#2a9a86" />
<circle cx="394.4" cy="356.6" r="2.4" fill="#2a9a86" />
<circle cx="401" cy="357.5" r="2.4" fill="#2a9a86" />
<line x1="413.3" y1="321.26" x2="413.3" y2="326.42" stroke="#111" stroke-width="1.2" />
<line x1="411.3" y1="321.26" x2="415.3" y2="321.26" stroke="#111" stroke-width="1.2" />
<line x1="411.3" y1="326.42" x2="415.3" y2="326.42" stroke="#111" stroke-width="1.2" />
<circle cx="413.2" cy="318.3" r="2.4" fill="#2a9a86" />
<circle cx="413.2" cy="329.2" r="2.4" fill="#2a9a86" />
<circle cx="418" cy="326.4" r="2.4" fill="#2a9a86" />
<line x1="428.6" y1="349.43" x2="428.6" y2="352" stroke="#111" stroke-width="1.2" />
<line x1="426.6" y1="349.43" x2="430.6" y2="349.43" stroke="#111" stroke-width="1.2" />
<line x1="426.6" y1="352" x2="430.6" y2="352" stroke="#111" stroke-width="1.2" />
<circle cx="428.7" cy="348.1" r="2.4" fill="#2a9a86" />
<circle cx="425.5" cy="351.9" r="2.4" fill="#2a9a86" />
<circle cx="432.5" cy="351.9" r="2.4" fill="#2a9a86" />
<line x1="455.7" y1="328.79" x2="455.7" y2="352.65" stroke="#111" stroke-width="1.2" />
<line x1="453.7" y1="328.79" x2="457.7" y2="328.79" stroke="#111" stroke-width="1.2" />
<line x1="453.7" y1="352.65" x2="457.7" y2="352.65" stroke="#111" stroke-width="1.2" />
<circle cx="451.3" cy="332.5" r="2.4" fill="#2a9a86" />
<circle cx="460.4" cy="329.6" r="2.4" fill="#2a9a86" />
<circle cx="456" cy="345.3" r="2.4" fill="#2a9a86" />
<circle cx="456" cy="354.7" r="2.4" fill="#2a9a86" />
<line x1="471.4" y1="246.23" x2="471.4" y2="262.35" stroke="#111" stroke-width="1.2" />
<line x1="469.4" y1="246.23" x2="473.4" y2="246.23" stroke="#111" stroke-width="1.2" />
<line x1="469.4" y1="262.35" x2="473.4" y2="262.35" stroke="#111" stroke-width="1.2" />
<circle cx="471.4" cy="238.8" r="2.4" fill="#2a9a86" />
<circle cx="471.4" cy="248.2" r="2.4" fill="#2a9a86" />
<circle cx="465.6" cy="259.6" r="2.4" fill="#2a9a86" />
<circle cx="468.2" cy="259.6" r="2.4" fill="#2a9a86" />
<circle cx="474" cy="257.3" r="2.4" fill="#2a9a86" />
<circle cx="471.4" cy="264.4" r="2.4" fill="#2a9a86" />
<line x1="487.1" y1="323.62" x2="487.1" y2="352.65" stroke="#111" stroke-width="1.2" />
<line x1="485.1" y1="323.62" x2="489.1" y2="323.62" stroke="#111" stroke-width="1.2" />
<line x1="485.1" y1="352.65" x2="489.1" y2="352.65" stroke="#111" stroke-width="1.2" />
<circle cx="486.8" cy="323.6" r="2.4" fill="#2a9a86" />
<circle cx="486.8" cy="339.2" r="2.4" fill="#2a9a86" />
<circle cx="486.8" cy="352.8" r="2.4" fill="#2a9a86" />
<line x1="514.4" y1="363.4" x2="514.4" y2="364.9" stroke="#111" stroke-width="1.2" />
<line x1="512.4" y1="363.4" x2="516.4" y2="363.4" stroke="#111" stroke-width="1.2" />
<line x1="512.4" y1="364.9" x2="516.4" y2="364.9" stroke="#111" stroke-width="1.2" />
<circle cx="513.4" cy="363.6" r="2.4" fill="#2a9a86" />
<circle cx="517.9" cy="365" r="2.4" fill="#2a9a86" />
<line x1="529.5" y1="328.57" x2="529.5" y2="339.75" stroke="#111" stroke-width="1.2" />
<line x1="527.5" y1="328.57" x2="531.5" y2="328.57" stroke="#111" stroke-width="1.2" />
<line x1="527.5" y1="339.75" x2="531.5" y2="339.75" stroke="#111" stroke-width="1.2" />
<circle cx="524.9" cy="332.7" r="2.4" fill="#2a9a86" />
<circle cx="534.1" cy="330.2" r="2.4" fill="#2a9a86" />
<circle cx="529.4" cy="343.1" r="2.4" fill="#2a9a86" />
<line x1="545.3" y1="354.8" x2="545.3" y2="365.33" stroke="#111" stroke-width="1.2" />
<line x1="543.3" y1="354.8" x2="547.3" y2="354.8" stroke="#111" stroke-width="1.2" />
<line x1="543.3" y1="365.33" x2="547.3" y2="365.33" stroke="#111" stroke-width="1.2" />
<circle cx="545.1" cy="352" r="2.4" fill="#2a9a86" />
<circle cx="545.1" cy="360.9" r="2.4" fill="#2a9a86" />
<circle cx="540.4" cy="363.3" r="2.4" fill="#2a9a86" />
<line x1="442.3" y1="218.6" x2="442.3" y2="372" stroke="#111" stroke-width="1.1" stroke-dasharray="2.6 1.6"/>
<line x1="500.8" y1="218.6" x2="500.8" y2="372" stroke="#111" stroke-width="1.1" stroke-dasharray="2.6 1.6"/>
<rect x="384.5" y="218.6" width="173.8" height="153.4" fill="none" stroke="#111" stroke-width="1.2" />
<text x="381" y="376.23" font-size="10.7" text-anchor="end" fill="#111" stroke="#111" stroke-width="0.16" >0</text>
<line x1="384.5" y1="350.5" x2="386.8" y2="350.5" stroke="#111" stroke-width="1.0" />
<text x="381" y="354.73" font-size="10.7" text-anchor="end" fill="#111" stroke="#111" stroke-width="0.16" >1</text>
<line x1="384.5" y1="329" x2="386.8" y2="329" stroke="#111" stroke-width="1.0" />
<text x="381" y="333.23" font-size="10.7" text-anchor="end" fill="#111" stroke="#111" stroke-width="0.16" >2</text>
<line x1="384.5" y1="307.5" x2="386.8" y2="307.5" stroke="#111" stroke-width="1.0" />
<text x="381" y="311.73" font-size="10.7" text-anchor="end" fill="#111" stroke="#111" stroke-width="0.16" >3</text>
<line x1="384.5" y1="286" x2="386.8" y2="286" stroke="#111" stroke-width="1.0" />
<text x="381" y="290.23" font-size="10.7" text-anchor="end" fill="#111" stroke="#111" stroke-width="0.16" >4</text>
<line x1="384.5" y1="264.5" x2="386.8" y2="264.5" stroke="#111" stroke-width="1.0" />
<text x="381" y="268.73" font-size="10.7" text-anchor="end" fill="#111" stroke="#111" stroke-width="0.16" >5</text>
<line x1="384.5" y1="243" x2="386.8" y2="243" stroke="#111" stroke-width="1.0" />
<text x="381" y="247.23" font-size="10.7" text-anchor="end" fill="#111" stroke="#111" stroke-width="0.16" >6</text>
<line x1="384.5" y1="221.5" x2="386.8" y2="221.5" stroke="#111" stroke-width="1.0" />
<text x="381" y="225.73" font-size="10.7" text-anchor="end" fill="#111" stroke="#111" stroke-width="0.16" >7</text>
<line x1="397.9" y1="372" x2="397.9" y2="369.7" stroke="#111" stroke-width="1.0" />
<text x="397.9" y="383.36" font-size="10.7" text-anchor="middle" fill="#111" stroke="#111" stroke-width="0.16" >1</text>
<line x1="413.3" y1="372" x2="413.3" y2="369.7" stroke="#111" stroke-width="1.0" />
<text x="413.3" y="383.36" font-size="10.7" text-anchor="middle" fill="#111" stroke="#111" stroke-width="0.16" >2</text>
<line x1="428.6" y1="372" x2="428.6" y2="369.7" stroke="#111" stroke-width="1.0" />
<text x="428.6" y="383.36" font-size="10.7" text-anchor="middle" fill="#111" stroke="#111" stroke-width="0.16" >3</text>
<line x1="455.7" y1="372" x2="455.7" y2="369.7" stroke="#111" stroke-width="1.0" />
<text x="455.7" y="383.36" font-size="10.7" text-anchor="middle" fill="#111" stroke="#111" stroke-width="0.16" >2</text>
<line x1="471.4" y1="372" x2="471.4" y2="369.7" stroke="#111" stroke-width="1.0" />
<text x="471.4" y="383.36" font-size="10.7" text-anchor="middle" fill="#111" stroke="#111" stroke-width="0.16" >3</text>
<line x1="487.1" y1="372" x2="487.1" y2="369.7" stroke="#111" stroke-width="1.0" />
<text x="487.1" y="383.36" font-size="10.7" text-anchor="middle" fill="#111" stroke="#111" stroke-width="0.16" >4</text>
<line x1="514.4" y1="372" x2="514.4" y2="369.7" stroke="#111" stroke-width="1.0" />
<text x="514.4" y="383.36" font-size="10.7" text-anchor="middle" fill="#111" stroke="#111" stroke-width="0.16" >3</text>
<line x1="529.5" y1="372" x2="529.5" y2="369.7" stroke="#111" stroke-width="1.0" />
<text x="529.5" y="383.36" font-size="10.7" text-anchor="middle" fill="#111" stroke="#111" stroke-width="0.16" >4</text>
<line x1="545.3" y1="372" x2="545.3" y2="369.7" stroke="#111" stroke-width="1.0" />
<text x="545.3" y="383.36" font-size="10.7" text-anchor="middle" fill="#111" stroke="#111" stroke-width="0.16" >5</text>
<text x="412.5" y="229.3" font-size="9.5" text-anchor="middle" fill="#111" stroke="#111" stroke-width="0.16" >Soft</text>
<text x="471.7" y="229.3" font-size="9.5" text-anchor="middle" fill="#111" stroke="#111" stroke-width="0.16" >Intermediate</text>
<text x="529.6" y="229.3" font-size="9.5" text-anchor="middle" fill="#111" stroke="#111" stroke-width="0.16" >Stiff</text>
<text x="471.6" y="394" font-size="11.1" text-anchor="middle" fill="#111" stroke="#111" stroke-width="0.16" >Stimulation frequency (Hz)</text>
<text transform="translate(368.4,295.9) rotate(-90)" x="0" y="0" font-size="11.2" text-anchor="middle" fill="#111" stroke="#111" stroke-width="0.16">Swimming speed (mm/s)</text>
<text x="360.2" y="215.4" font-size="18.3" text-anchor="start" fill="#111" stroke="#111" stroke-width="0.16" >e</text>
<line x1="622.6" y1="316.23" x2="622.6" y2="357.41" stroke="#e05a68" stroke-width="1.3" />
<line x1="616.6" y1="316.23" x2="628.6" y2="316.23" stroke="#e05a68" stroke-width="1.4" />
<line x1="616.6" y1="357.41" x2="628.6" y2="357.41" stroke="#e05a68" stroke-width="1.4" />
<line x1="612.7" y1="337.25" x2="634.7" y2="337.25" stroke="#f0a8b0" stroke-width="1.3" stroke-dasharray="2.5 1.8"/>
<circle cx="620.8" cy="302" r="1.9" fill="#e05a68" />
<circle cx="620" cy="318.8" r="1.9" fill="#e05a68" />
<circle cx="621.8" cy="328.6" r="1.9" fill="#e05a68" />
<circle cx="623.7" cy="328.6" r="1.9" fill="#e05a68" />
<circle cx="622" cy="334.7" r="1.9" fill="#e05a68" />
<circle cx="626.2" cy="340.8" r="1.9" fill="#e05a68" />
<circle cx="620" cy="350.5" r="1.9" fill="#e05a68" />
<circle cx="618.8" cy="362.3" r="1.9" fill="#e05a68" />
<circle cx="623" cy="365.9" r="1.9" fill="#e05a68" />
<line x1="661" y1="245.44" x2="661" y2="262.61" stroke="#2a9a86" stroke-width="1.3" />
<line x1="655" y1="245.44" x2="667" y2="245.44" stroke="#2a9a86" stroke-width="1.4" />
<line x1="655" y1="262.61" x2="667" y2="262.61" stroke="#2a9a86" stroke-width="1.4" />
<line x1="651.4" y1="253.9" x2="672.9" y2="253.9" stroke="#8fd0c4" stroke-width="1.3" stroke-dasharray="2.5 1.8"/>
<circle cx="656.4" cy="239.2" r="1.9" fill="#2a9a86" />
<circle cx="661.4" cy="247.9" r="1.9" fill="#2a9a86" />
<circle cx="662.4" cy="248.3" r="1.9" fill="#2a9a86" />
<circle cx="662.4" cy="257.3" r="1.9" fill="#2a9a86" />
<circle cx="658" cy="259.3" r="1.9" fill="#2a9a86" />
<circle cx="661.4" cy="259.3" r="1.9" fill="#2a9a86" />
<circle cx="658.8" cy="264.4" r="1.9" fill="#2a9a86" />
<polyline points="622.6,233.2 622.6,228.5 660.8,228.5 660.8,233.2" fill="none" stroke="#222" stroke-width="1.1"/>
<text x="641.9" y="228" font-size="9.6" text-anchor="middle" fill="#111" stroke="#111" stroke-width="0.16" >***</text>
<rect x="604.3" y="218.4" width="74.9" height="153.6" fill="none" stroke="#111" stroke-width="1.2" />
<text x="601.5" y="377.02" font-size="11.5" text-anchor="end" fill="#111" stroke="#111" stroke-width="0.16" >0</text>
<line x1="604.3" y1="350.55" x2="606.6" y2="350.55" stroke="#111" stroke-width="1.0" />
<text x="601.5" y="355.57" font-size="11.5" text-anchor="end" fill="#111" stroke="#111" stroke-width="0.16" >1</text>
<line x1="604.3" y1="329.1" x2="606.6" y2="329.1" stroke="#111" stroke-width="1.0" />
<text x="601.5" y="334.12" font-size="11.5" text-anchor="end" fill="#111" stroke="#111" stroke-width="0.16" >2</text>
<line x1="604.3" y1="307.65" x2="606.6" y2="307.65" stroke="#111" stroke-width="1.0" />
<text x="601.5" y="312.67" font-size="11.5" text-anchor="end" fill="#111" stroke="#111" stroke-width="0.16" >3</text>
<line x1="604.3" y1="286.2" x2="606.6" y2="286.2" stroke="#111" stroke-width="1.0" />
<text x="601.5" y="291.22" font-size="11.5" text-anchor="end" fill="#111" stroke="#111" stroke-width="0.16" >4</text>
<line x1="604.3" y1="264.75" x2="606.6" y2="264.75" stroke="#111" stroke-width="1.0" />
<text x="601.5" y="269.77" font-size="11.5" text-anchor="end" fill="#111" stroke="#111" stroke-width="0.16" >5</text>
<line x1="604.3" y1="243.3" x2="606.6" y2="243.3" stroke="#111" stroke-width="1.0" />
<text x="601.5" y="248.32" font-size="11.5" text-anchor="end" fill="#111" stroke="#111" stroke-width="0.16" >6</text>
<line x1="604.3" y1="221.85" x2="606.6" y2="221.85" stroke="#111" stroke-width="1.0" />
<text x="601.5" y="226.87" font-size="11.5" text-anchor="end" fill="#111" stroke="#111" stroke-width="0.16" >7</text>
<text x="623.1" y="382.2" font-size="11.5" text-anchor="middle" fill="#111" stroke="#111" stroke-width="0.16" >HMP</text>
<text x="661" y="382.2" font-size="11.5" text-anchor="middle" fill="#111" stroke="#111" stroke-width="0.16" >STMP</text>
<text transform="translate(591,295.7) rotate(-90)" x="0" y="0" font-size="11.25" text-anchor="middle" fill="#111" stroke="#111" stroke-width="0.16">Swimming speed (mm/s)</text>
<text x="577.2" y="215.6" font-size="17.5" text-anchor="start" fill="#111" stroke="#111" stroke-width="0.16" >f</text>
</svg>
</body></html>
